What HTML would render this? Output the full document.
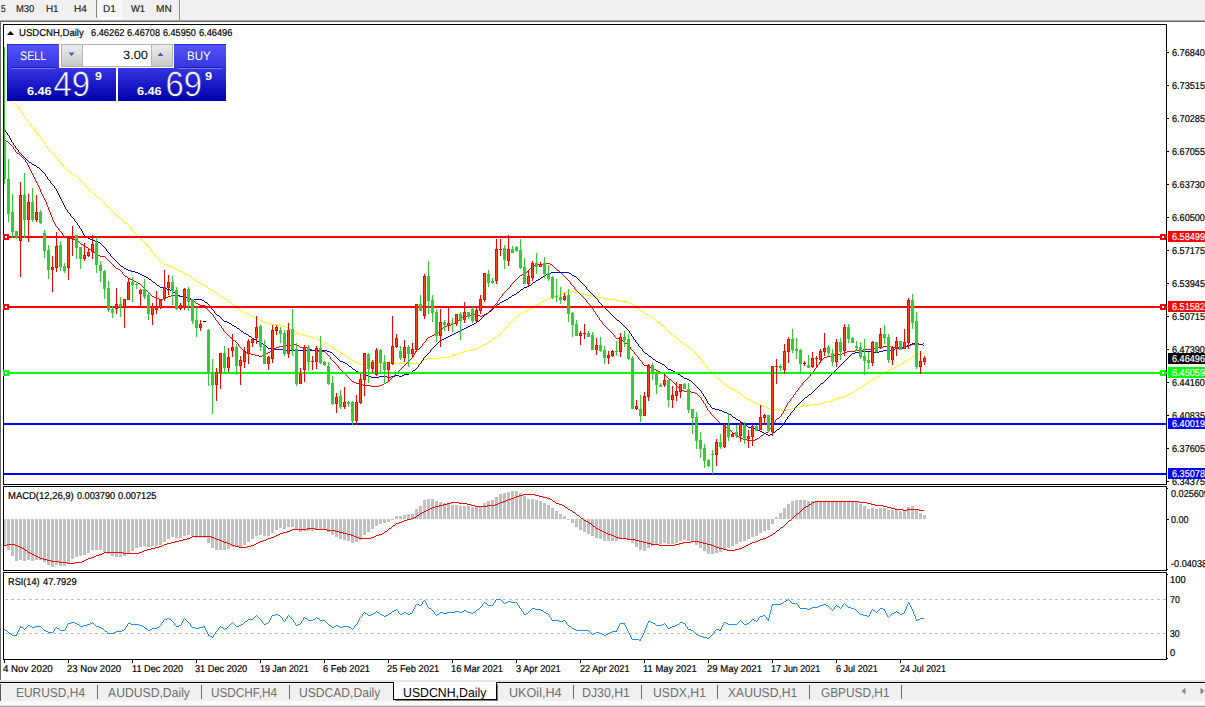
<!DOCTYPE html><html><head><meta charset="utf-8"><title>USDCNH,Daily</title><style>
html,body{margin:0;padding:0;}
body{width:1205px;height:707px;overflow:hidden;background:#fff;font-family:"Liberation Sans",sans-serif;position:relative;}
.a{position:absolute;}
.t{position:absolute;transform-origin:0 0;text-rendering:geometricPrecision;font-size:11px;line-height:11px;color:#000;white-space:nowrap;}
.tb{position:absolute;font-size:11px;line-height:11px;color:#3c3c3c;white-space:nowrap;top:3px;}
.tab{position:absolute;font-size:13px;line-height:13px;color:#6a6a6a;white-space:nowrap;top:686px;}
.pl{position:absolute;left:1168px;width:37px;height:11px;color:#fff;font-size:11px;line-height:11px;overflow:hidden;white-space:nowrap;}
.pl span{position:absolute;left:4px;top:0px;}
</style></head><body>
<div class="a" style="left:0;top:0;width:1205px;height:20px;background:#f0f0f0;"></div>
<div class="a" style="left:0;top:20px;width:1205px;height:1px;background:#a8a8a8;"></div>
<div class="a" style="left:0;top:21px;width:1205px;height:1px;background:#696969;"></div>
<div class="a" style="left:96px;top:0;width:1px;height:18px;background:#858585;"></div>
<div class="a" style="left:97px;top:0;width:24px;height:18px;background:#f8f8f8;"></div>
<div class="a" style="left:96px;top:18px;width:26px;height:1px;background:#fcfcfc;"></div>
<div class="a" style="left:121px;top:0;width:1px;height:18px;background:#fafafa;"></div>
<div class="a" style="left:179px;top:0;width:1px;height:20px;background:#8a8a8a;"></div>
<div class="a" style="left:180px;top:0;width:1px;height:20px;background:#fafafa;"></div>
<div class="t" style="left:0.96px;top:4.53px;font-size:10px;line-height:10px;color:#282828;transform:scaleX(0.8437);-webkit-text-stroke:0.2px #282828;">5</div>
<div class="t" style="left:15.53px;top:4.53px;font-size:10px;line-height:10px;color:#282828;transform:scaleX(0.9429);-webkit-text-stroke:0.2px #282828;">M30</div>
<div class="t" style="left:46.19px;top:4.53px;font-size:10px;line-height:10px;color:#282828;transform:scaleX(0.9848);-webkit-text-stroke:0.2px #282828;">H1</div>
<div class="t" style="left:73.58px;top:4.53px;font-size:10px;line-height:10px;color:#282828;transform:scaleX(1.0026);-webkit-text-stroke:0.2px #282828;">H4</div>
<div class="t" style="left:102.59px;top:4.53px;font-size:10px;line-height:10px;color:#282828;transform:scaleX(0.9935);-webkit-text-stroke:0.2px #282828;">D1</div>
<div class="t" style="left:130.76px;top:4.53px;font-size:10px;line-height:10px;color:#282828;transform:scaleX(0.9331);-webkit-text-stroke:0.2px #282828;">W1</div>
<div class="t" style="left:156.47px;top:4.53px;font-size:10px;line-height:10px;color:#282828;transform:scaleX(1.0060);-webkit-text-stroke:0.2px #282828;">MN</div>
<div class="a" style="left:0;top:22px;width:1px;height:658px;background:#6a6a6a;"></div>
<div class="a" style="left:3px;top:24px;width:1162px;height:459px;border:1px solid #000;"></div>
<div class="a" style="left:3px;top:486px;width:1162px;height:83px;border:1px solid #000;"></div>
<div class="a" style="left:3px;top:572px;width:1162px;height:86px;border:1px solid #000;"></div>
<div class="a" style="left:1167px;top:52px;width:2px;height:1px;background:#000;"></div>
<div class="t" style="left:1172.34px;top:48.53px;font-size:10px;line-height:10px;color:#000;transform:scaleX(0.9107);-webkit-text-stroke:0.2px #000;">6.76840</div>
<div class="a" style="left:1167px;top:85px;width:2px;height:1px;background:#000;"></div>
<div class="t" style="left:1172.34px;top:81.53px;font-size:10px;line-height:10px;color:#000;transform:scaleX(0.9114);-webkit-text-stroke:0.2px #000;">6.73515</div>
<div class="a" style="left:1167px;top:118px;width:2px;height:1px;background:#000;"></div>
<div class="t" style="left:1172.34px;top:114.53px;font-size:10px;line-height:10px;color:#000;transform:scaleX(0.9114);-webkit-text-stroke:0.2px #000;">6.70285</div>
<div class="a" style="left:1167px;top:151px;width:2px;height:1px;background:#000;"></div>
<div class="t" style="left:1172.34px;top:147.53px;font-size:10px;line-height:10px;color:#000;transform:scaleX(0.9114);-webkit-text-stroke:0.2px #000;">6.67055</div>
<div class="a" style="left:1167px;top:184px;width:2px;height:1px;background:#000;"></div>
<div class="t" style="left:1172.34px;top:180.53px;font-size:10px;line-height:10px;color:#000;transform:scaleX(0.9107);-webkit-text-stroke:0.2px #000;">6.63730</div>
<div class="a" style="left:1167px;top:217px;width:2px;height:1px;background:#000;"></div>
<div class="t" style="left:1172.34px;top:213.53px;font-size:10px;line-height:10px;color:#000;transform:scaleX(0.9107);-webkit-text-stroke:0.2px #000;">6.60500</div>
<div class="a" style="left:1167px;top:250px;width:2px;height:1px;background:#000;"></div>
<div class="t" style="left:1172.34px;top:246.53px;font-size:10px;line-height:10px;color:#000;transform:scaleX(0.9114);-webkit-text-stroke:0.2px #000;">6.57175</div>
<div class="a" style="left:1167px;top:283px;width:2px;height:1px;background:#000;"></div>
<div class="t" style="left:1172.34px;top:279.53px;font-size:10px;line-height:10px;color:#000;transform:scaleX(0.9114);-webkit-text-stroke:0.2px #000;">6.53945</div>
<div class="a" style="left:1167px;top:316px;width:2px;height:1px;background:#000;"></div>
<div class="t" style="left:1172.34px;top:312.53px;font-size:10px;line-height:10px;color:#000;transform:scaleX(0.9114);-webkit-text-stroke:0.2px #000;">6.50715</div>
<div class="a" style="left:1167px;top:349px;width:2px;height:1px;background:#000;"></div>
<div class="t" style="left:1172.34px;top:345.53px;font-size:10px;line-height:10px;color:#000;transform:scaleX(0.9107);-webkit-text-stroke:0.2px #000;">6.47390</div>
<div class="a" style="left:1167px;top:382px;width:2px;height:1px;background:#000;"></div>
<div class="t" style="left:1172.34px;top:378.53px;font-size:10px;line-height:10px;color:#000;transform:scaleX(0.9107);-webkit-text-stroke:0.2px #000;">6.44160</div>
<div class="a" style="left:1167px;top:415px;width:2px;height:1px;background:#000;"></div>
<div class="t" style="left:1172.34px;top:411.53px;font-size:10px;line-height:10px;color:#000;transform:scaleX(0.9114);-webkit-text-stroke:0.2px #000;">6.40835</div>
<div class="a" style="left:1167px;top:448px;width:2px;height:1px;background:#000;"></div>
<div class="t" style="left:1172.34px;top:444.53px;font-size:10px;line-height:10px;color:#000;transform:scaleX(0.9114);-webkit-text-stroke:0.2px #000;">6.37605</div>
<div class="a" style="left:1167px;top:481px;width:2px;height:1px;background:#000;"></div>
<div class="t" style="left:1172.34px;top:477.53px;font-size:10px;line-height:10px;color:#000;transform:scaleX(0.9114);-webkit-text-stroke:0.2px #000;">6.34375</div>
<div class="a" style="left:1167px;top:488px;width:1px;height:1px;background:#000;"></div>
<div class="t" style="left:1171.15px;top:489.93px;font-size:10px;line-height:10px;color:#000;transform:scaleX(0.9083);-webkit-text-stroke:0.2px #000;">0.025609</div>
<div class="a" style="left:1167px;top:519px;width:2px;height:1px;background:#000;"></div>
<div class="t" style="left:1171.15px;top:515.53px;font-size:10px;line-height:10px;color:#000;transform:scaleX(0.8993);-webkit-text-stroke:0.2px #000;">0.00</div>
<div class="a" style="left:1167px;top:569px;width:1px;height:1px;background:#000;"></div>
<div class="t" style="left:1171.09px;top:559.73px;font-size:10px;line-height:10px;color:#000;transform:scaleX(0.9145);-webkit-text-stroke:0.2px #000;">-0.04038</div>
<div class="a" style="left:1167px;top:574px;width:1px;height:1px;background:#000;"></div>
<div class="t" style="left:1169.59px;top:575.73px;font-size:10px;line-height:10px;color:#000;transform:scaleX(0.9335);-webkit-text-stroke:0.2px #000;">100</div>
<div class="a" style="left:1167px;top:599px;width:0px;height:1px;background:#000;"></div>
<div class="t" style="left:1169.85px;top:595.53px;font-size:10px;line-height:10px;color:#000;transform:scaleX(0.8806);-webkit-text-stroke:0.2px #000;">70</div>
<div class="a" style="left:1167px;top:633px;width:0px;height:1px;background:#000;"></div>
<div class="t" style="left:1169.97px;top:629.53px;font-size:10px;line-height:10px;color:#000;transform:scaleX(0.8694);-webkit-text-stroke:0.2px #000;">30</div>
<div class="a" style="left:1167px;top:658px;width:1px;height:1px;background:#000;"></div>
<div class="t" style="left:1169.93px;top:648.53px;font-size:10px;line-height:10px;color:#000;transform:scaleX(0.9414);-webkit-text-stroke:0.2px #000;">0</div>
<svg class="a" style="left:0;top:0;" width="1205" height="707" viewBox="0 0 1205 707" shape-rendering="crispEdges"><defs><clipPath id="c1"><rect x="4" y="25" width="1162" height="459"/></clipPath><clipPath id="c2"><rect x="4" y="487" width="1162" height="83"/></clipPath><clipPath id="c3"><rect x="4" y="573" width="1162" height="86"/></clipPath></defs><g clip-path="url(#c3)"><path d="M5 599h3v1h-3zM11 599h3v1h-3zM17 599h3v1h-3zM23 599h3v1h-3zM29 599h3v1h-3zM35 599h3v1h-3zM41 599h3v1h-3zM47 599h3v1h-3zM53 599h3v1h-3zM59 599h3v1h-3zM65 599h3v1h-3zM71 599h3v1h-3zM77 599h3v1h-3zM83 599h3v1h-3zM89 599h3v1h-3zM95 599h3v1h-3zM101 599h3v1h-3zM107 599h3v1h-3zM113 599h3v1h-3zM119 599h3v1h-3zM125 599h3v1h-3zM131 599h3v1h-3zM137 599h3v1h-3zM143 599h3v1h-3zM149 599h3v1h-3zM155 599h3v1h-3zM161 599h3v1h-3zM167 599h3v1h-3zM173 599h3v1h-3zM179 599h3v1h-3zM185 599h3v1h-3zM191 599h3v1h-3zM197 599h3v1h-3zM203 599h3v1h-3zM209 599h3v1h-3zM215 599h3v1h-3zM221 599h3v1h-3zM227 599h3v1h-3zM233 599h3v1h-3zM239 599h3v1h-3zM245 599h3v1h-3zM251 599h3v1h-3zM257 599h3v1h-3zM263 599h3v1h-3zM269 599h3v1h-3zM275 599h3v1h-3zM281 599h3v1h-3zM287 599h3v1h-3zM293 599h3v1h-3zM299 599h3v1h-3zM305 599h3v1h-3zM311 599h3v1h-3zM317 599h3v1h-3zM323 599h3v1h-3zM329 599h3v1h-3zM335 599h3v1h-3zM341 599h3v1h-3zM347 599h3v1h-3zM353 599h3v1h-3zM359 599h3v1h-3zM365 599h3v1h-3zM371 599h3v1h-3zM377 599h3v1h-3zM383 599h3v1h-3zM389 599h3v1h-3zM395 599h3v1h-3zM401 599h3v1h-3zM407 599h3v1h-3zM413 599h3v1h-3zM419 599h3v1h-3zM425 599h3v1h-3zM431 599h3v1h-3zM437 599h3v1h-3zM443 599h3v1h-3zM449 599h3v1h-3zM455 599h3v1h-3zM461 599h3v1h-3zM467 599h3v1h-3zM473 599h3v1h-3zM479 599h3v1h-3zM485 599h3v1h-3zM491 599h3v1h-3zM497 599h3v1h-3zM503 599h3v1h-3zM509 599h3v1h-3zM515 599h3v1h-3zM521 599h3v1h-3zM527 599h3v1h-3zM533 599h3v1h-3zM539 599h3v1h-3zM545 599h3v1h-3zM551 599h3v1h-3zM557 599h3v1h-3zM563 599h3v1h-3zM569 599h3v1h-3zM575 599h3v1h-3zM581 599h3v1h-3zM587 599h3v1h-3zM593 599h3v1h-3zM599 599h3v1h-3zM605 599h3v1h-3zM611 599h3v1h-3zM617 599h3v1h-3zM623 599h3v1h-3zM629 599h3v1h-3zM635 599h3v1h-3zM641 599h3v1h-3zM647 599h3v1h-3zM653 599h3v1h-3zM659 599h3v1h-3zM665 599h3v1h-3zM671 599h3v1h-3zM677 599h3v1h-3zM683 599h3v1h-3zM689 599h3v1h-3zM695 599h3v1h-3zM701 599h3v1h-3zM707 599h3v1h-3zM713 599h3v1h-3zM719 599h3v1h-3zM725 599h3v1h-3zM731 599h3v1h-3zM737 599h3v1h-3zM743 599h3v1h-3zM749 599h3v1h-3zM755 599h3v1h-3zM761 599h3v1h-3zM767 599h3v1h-3zM773 599h3v1h-3zM779 599h3v1h-3zM785 599h3v1h-3zM791 599h3v1h-3zM797 599h3v1h-3zM803 599h3v1h-3zM809 599h3v1h-3zM815 599h3v1h-3zM821 599h3v1h-3zM827 599h3v1h-3zM833 599h3v1h-3zM839 599h3v1h-3zM845 599h3v1h-3zM851 599h3v1h-3zM857 599h3v1h-3zM863 599h3v1h-3zM869 599h3v1h-3zM875 599h3v1h-3zM881 599h3v1h-3zM887 599h3v1h-3zM893 599h3v1h-3zM899 599h3v1h-3zM905 599h3v1h-3zM911 599h3v1h-3zM917 599h3v1h-3zM923 599h3v1h-3zM929 599h3v1h-3zM935 599h3v1h-3zM941 599h3v1h-3zM947 599h3v1h-3zM953 599h3v1h-3zM959 599h3v1h-3zM965 599h3v1h-3zM971 599h3v1h-3zM977 599h3v1h-3zM983 599h3v1h-3zM989 599h3v1h-3zM995 599h3v1h-3zM1001 599h3v1h-3zM1007 599h3v1h-3zM1013 599h3v1h-3zM1019 599h3v1h-3zM1025 599h3v1h-3zM1031 599h3v1h-3zM1037 599h3v1h-3zM1043 599h3v1h-3zM1049 599h3v1h-3zM1055 599h3v1h-3zM1061 599h3v1h-3zM1067 599h3v1h-3zM1073 599h3v1h-3zM1079 599h3v1h-3zM1085 599h3v1h-3zM1091 599h3v1h-3zM1097 599h3v1h-3zM1103 599h3v1h-3zM1109 599h3v1h-3zM1115 599h3v1h-3zM1121 599h3v1h-3zM1127 599h3v1h-3zM1133 599h3v1h-3zM1139 599h3v1h-3zM1145 599h3v1h-3zM1151 599h3v1h-3zM1157 599h3v1h-3zM1163 599h3v1h-3zM5 633h3v1h-3zM11 633h3v1h-3zM17 633h3v1h-3zM23 633h3v1h-3zM29 633h3v1h-3zM35 633h3v1h-3zM41 633h3v1h-3zM47 633h3v1h-3zM53 633h3v1h-3zM59 633h3v1h-3zM65 633h3v1h-3zM71 633h3v1h-3zM77 633h3v1h-3zM83 633h3v1h-3zM89 633h3v1h-3zM95 633h3v1h-3zM101 633h3v1h-3zM107 633h3v1h-3zM113 633h3v1h-3zM119 633h3v1h-3zM125 633h3v1h-3zM131 633h3v1h-3zM137 633h3v1h-3zM143 633h3v1h-3zM149 633h3v1h-3zM155 633h3v1h-3zM161 633h3v1h-3zM167 633h3v1h-3zM173 633h3v1h-3zM179 633h3v1h-3zM185 633h3v1h-3zM191 633h3v1h-3zM197 633h3v1h-3zM203 633h3v1h-3zM209 633h3v1h-3zM215 633h3v1h-3zM221 633h3v1h-3zM227 633h3v1h-3zM233 633h3v1h-3zM239 633h3v1h-3zM245 633h3v1h-3zM251 633h3v1h-3zM257 633h3v1h-3zM263 633h3v1h-3zM269 633h3v1h-3zM275 633h3v1h-3zM281 633h3v1h-3zM287 633h3v1h-3zM293 633h3v1h-3zM299 633h3v1h-3zM305 633h3v1h-3zM311 633h3v1h-3zM317 633h3v1h-3zM323 633h3v1h-3zM329 633h3v1h-3zM335 633h3v1h-3zM341 633h3v1h-3zM347 633h3v1h-3zM353 633h3v1h-3zM359 633h3v1h-3zM365 633h3v1h-3zM371 633h3v1h-3zM377 633h3v1h-3zM383 633h3v1h-3zM389 633h3v1h-3zM395 633h3v1h-3zM401 633h3v1h-3zM407 633h3v1h-3zM413 633h3v1h-3zM419 633h3v1h-3zM425 633h3v1h-3zM431 633h3v1h-3zM437 633h3v1h-3zM443 633h3v1h-3zM449 633h3v1h-3zM455 633h3v1h-3zM461 633h3v1h-3zM467 633h3v1h-3zM473 633h3v1h-3zM479 633h3v1h-3zM485 633h3v1h-3zM491 633h3v1h-3zM497 633h3v1h-3zM503 633h3v1h-3zM509 633h3v1h-3zM515 633h3v1h-3zM521 633h3v1h-3zM527 633h3v1h-3zM533 633h3v1h-3zM539 633h3v1h-3zM545 633h3v1h-3zM551 633h3v1h-3zM557 633h3v1h-3zM563 633h3v1h-3zM569 633h3v1h-3zM575 633h3v1h-3zM581 633h3v1h-3zM587 633h3v1h-3zM593 633h3v1h-3zM599 633h3v1h-3zM605 633h3v1h-3zM611 633h3v1h-3zM617 633h3v1h-3zM623 633h3v1h-3zM629 633h3v1h-3zM635 633h3v1h-3zM641 633h3v1h-3zM647 633h3v1h-3zM653 633h3v1h-3zM659 633h3v1h-3zM665 633h3v1h-3zM671 633h3v1h-3zM677 633h3v1h-3zM683 633h3v1h-3zM689 633h3v1h-3zM695 633h3v1h-3zM701 633h3v1h-3zM707 633h3v1h-3zM713 633h3v1h-3zM719 633h3v1h-3zM725 633h3v1h-3zM731 633h3v1h-3zM737 633h3v1h-3zM743 633h3v1h-3zM749 633h3v1h-3zM755 633h3v1h-3zM761 633h3v1h-3zM767 633h3v1h-3zM773 633h3v1h-3zM779 633h3v1h-3zM785 633h3v1h-3zM791 633h3v1h-3zM797 633h3v1h-3zM803 633h3v1h-3zM809 633h3v1h-3zM815 633h3v1h-3zM821 633h3v1h-3zM827 633h3v1h-3zM833 633h3v1h-3zM839 633h3v1h-3zM845 633h3v1h-3zM851 633h3v1h-3zM857 633h3v1h-3zM863 633h3v1h-3zM869 633h3v1h-3zM875 633h3v1h-3zM881 633h3v1h-3zM887 633h3v1h-3zM893 633h3v1h-3zM899 633h3v1h-3zM905 633h3v1h-3zM911 633h3v1h-3zM917 633h3v1h-3zM923 633h3v1h-3zM929 633h3v1h-3zM935 633h3v1h-3zM941 633h3v1h-3zM947 633h3v1h-3zM953 633h3v1h-3zM959 633h3v1h-3zM965 633h3v1h-3zM971 633h3v1h-3zM977 633h3v1h-3zM983 633h3v1h-3zM989 633h3v1h-3zM995 633h3v1h-3zM1001 633h3v1h-3zM1007 633h3v1h-3zM1013 633h3v1h-3zM1019 633h3v1h-3zM1025 633h3v1h-3zM1031 633h3v1h-3zM1037 633h3v1h-3zM1043 633h3v1h-3zM1049 633h3v1h-3zM1055 633h3v1h-3zM1061 633h3v1h-3zM1067 633h3v1h-3zM1073 633h3v1h-3zM1079 633h3v1h-3zM1085 633h3v1h-3zM1091 633h3v1h-3zM1097 633h3v1h-3zM1103 633h3v1h-3zM1109 633h3v1h-3zM1115 633h3v1h-3zM1121 633h3v1h-3zM1127 633h3v1h-3zM1133 633h3v1h-3zM1139 633h3v1h-3zM1145 633h3v1h-3zM1151 633h3v1h-3zM1157 633h3v1h-3zM1163 633h3v1h-3z" fill="#c0c0c0"/><path d="M4 629h1v1h-1zM5 630h1v1h-1zM6 630h1v1h-1zM7 631h1v1h-1zM8 632h1v1h-1zM9 633h1v1h-1zM10 633h1v1h-1zM11 634h1v1h-1zM12 635h1v1h-1zM13 635h1v1h-1zM14 635h1v1h-1zM15 635h1v1h-1zM16 634h1v2h-1zM17 632h1v2h-1zM18 630h1v2h-1zM19 628h1v2h-1zM20 626h1v2h-1zM21 627h1v1h-1zM22 627h1v1h-1zM23 628h1v1h-1zM24 629h1v1h-1zM25 628h1v1h-1zM26 627h1v1h-1zM27 626h1v1h-1zM28 625h1v1h-1zM29 625h1v1h-1zM30 626h1v1h-1zM31 626h1v1h-1zM32 627h1v1h-1zM33 627h1v1h-1zM34 627h1v1h-1zM35 626h1v1h-1zM36 626h1v1h-1zM37 626h1v1h-1zM38 626h1v1h-1zM39 626h1v1h-1zM40 626h1v1h-1zM41 627h1v1h-1zM42 628h1v1h-1zM43 629h1v1h-1zM44 630h1v1h-1zM45 630h1v1h-1zM46 631h1v1h-1zM47 631h1v1h-1zM48 632h1v1h-1zM49 632h1v1h-1zM50 632h1v1h-1zM51 632h1v1h-1zM52 632h1v1h-1zM53 631h1v1h-1zM54 629h1v2h-1zM55 628h1v1h-1zM56 627h1v1h-1zM57 628h1v1h-1zM58 628h1v1h-1zM59 629h1v1h-1zM60 630h1v1h-1zM61 630h1v1h-1zM62 630h1v1h-1zM63 630h1v1h-1zM64 630h1v1h-1zM65 628h1v2h-1zM66 626h1v2h-1zM67 624h1v2h-1zM68 623h1v1h-1zM69 623h1v1h-1zM70 623h1v1h-1zM71 622h1v1h-1zM72 622h1v1h-1zM73 622h1v1h-1zM74 622h1v1h-1zM75 623h1v1h-1zM76 623h1v1h-1zM77 624h1v1h-1zM78 624h1v1h-1zM79 625h1v1h-1zM80 626h1v1h-1zM81 626h1v1h-1zM82 626h1v1h-1zM83 625h1v1h-1zM84 625h1v1h-1zM85 625h1v1h-1zM86 625h1v1h-1zM87 624h1v1h-1zM88 624h1v1h-1zM89 624h1v1h-1zM90 623h1v1h-1zM91 623h1v1h-1zM92 622h1v1h-1zM93 623h1v1h-1zM94 624h1v1h-1zM95 625h1v1h-1zM96 626h1v1h-1zM97 626h1v1h-1zM98 626h1v1h-1zM99 627h1v1h-1zM100 627h1v1h-1zM101 628h1v1h-1zM102 628h1v1h-1zM103 629h1v1h-1zM104 630h1v1h-1zM105 631h1v1h-1zM106 631h1v1h-1zM107 632h1v1h-1zM108 633h1v1h-1zM109 633h1v1h-1zM110 633h1v1h-1zM111 633h1v1h-1zM112 633h1v1h-1zM113 633h1v1h-1zM114 632h1v1h-1zM115 632h1v1h-1zM116 631h1v1h-1zM117 631h1v1h-1zM118 631h1v1h-1zM119 631h1v1h-1zM120 631h1v1h-1zM121 631h1v1h-1zM122 630h1v1h-1zM123 630h1v1h-1zM124 629h1v1h-1zM125 627h1v2h-1zM126 626h1v1h-1zM127 624h1v2h-1zM128 623h1v1h-1zM129 623h1v1h-1zM130 623h1v1h-1zM131 624h1v1h-1zM132 624h1v1h-1zM133 624h1v1h-1zM134 624h1v1h-1zM135 624h1v1h-1zM136 624h1v1h-1zM137 624h1v1h-1zM138 624h1v1h-1zM139 625h1v1h-1zM140 625h1v1h-1zM141 625h1v1h-1zM142 626h1v1h-1zM143 626h1v1h-1zM144 627h1v1h-1zM145 628h1v1h-1zM146 628h1v1h-1zM147 629h1v1h-1zM148 630h1v1h-1zM149 630h1v1h-1zM150 629h1v1h-1zM151 629h1v1h-1zM152 628h1v1h-1zM153 628h1v1h-1zM154 628h1v1h-1zM155 628h1v1h-1zM156 628h1v1h-1zM157 627h1v1h-1zM158 627h1v1h-1zM159 626h1v1h-1zM160 625h1v1h-1zM161 623h1v2h-1zM162 622h1v1h-1zM163 620h1v2h-1zM164 619h1v1h-1zM165 619h1v1h-1zM166 619h1v1h-1zM167 618h1v1h-1zM168 618h1v1h-1zM169 619h1v1h-1zM170 619h1v1h-1zM171 620h1v1h-1zM172 621h1v1h-1zM173 622h1v1h-1zM174 623h1v2h-1zM175 625h1v1h-1zM176 626h1v1h-1zM177 626h1v1h-1zM178 626h1v1h-1zM179 625h1v1h-1zM180 625h1v1h-1zM181 623h1v2h-1zM182 621h1v2h-1zM183 619h1v2h-1zM184 618h1v1h-1zM185 619h1v1h-1zM186 620h1v1h-1zM187 621h1v1h-1zM188 622h1v1h-1zM189 623h1v1h-1zM190 624h1v2h-1zM191 626h1v1h-1zM192 627h1v1h-1zM193 627h1v1h-1zM194 627h1v1h-1zM195 628h1v1h-1zM196 628h1v1h-1zM197 628h1v1h-1zM198 628h1v1h-1zM199 627h1v1h-1zM200 627h1v1h-1zM201 627h1v1h-1zM202 627h1v1h-1zM203 626h1v1h-1zM204 626h1v2h-1zM205 628h1v2h-1zM206 630h1v2h-1zM207 632h1v2h-1zM208 634h1v2h-1zM209 635h1v1h-1zM210 636h1v1h-1zM211 636h1v1h-1zM212 637h1v1h-1zM213 635h1v2h-1zM214 634h1v1h-1zM215 632h1v2h-1zM216 631h1v1h-1zM217 630h1v1h-1zM218 628h1v2h-1zM219 627h1v1h-1zM220 626h1v1h-1zM221 627h1v1h-1zM222 627h1v1h-1zM223 628h1v1h-1zM224 629h1v1h-1zM225 628h1v1h-1zM226 628h1v1h-1zM227 627h1v1h-1zM228 626h1v1h-1zM229 625h1v1h-1zM230 624h1v1h-1zM231 623h1v1h-1zM232 622h1v1h-1zM233 623h1v1h-1zM234 624h1v1h-1zM235 625h1v1h-1zM236 626h1v1h-1zM237 626h1v1h-1zM238 626h1v1h-1zM239 625h1v1h-1zM240 625h1v1h-1zM241 624h1v1h-1zM242 624h1v1h-1zM243 623h1v1h-1zM244 622h1v1h-1zM245 621h1v1h-1zM246 621h1v1h-1zM247 620h1v1h-1zM248 619h1v1h-1zM249 619h1v1h-1zM250 619h1v1h-1zM251 619h1v1h-1zM252 619h1v1h-1zM253 618h1v1h-1zM254 617h1v1h-1zM255 616h1v1h-1zM256 615h1v1h-1zM257 616h1v1h-1zM258 617h1v1h-1zM259 618h1v1h-1zM260 619h1v1h-1zM261 620h1v1h-1zM262 621h1v2h-1zM263 623h1v1h-1zM264 624h1v1h-1zM265 624h1v1h-1zM266 623h1v1h-1zM267 623h1v1h-1zM268 622h1v1h-1zM269 620h1v2h-1zM270 618h1v2h-1zM271 616h1v2h-1zM272 615h1v1h-1zM273 615h1v1h-1zM274 615h1v1h-1zM275 614h1v1h-1zM276 614h1v1h-1zM277 614h1v1h-1zM278 615h1v1h-1zM279 615h1v1h-1zM280 616h1v1h-1zM281 617h1v1h-1zM282 618h1v2h-1zM283 620h1v1h-1zM284 621h1v1h-1zM285 619h1v2h-1zM286 618h1v1h-1zM287 616h1v2h-1zM288 615h1v1h-1zM289 616h1v1h-1zM290 617h1v1h-1zM291 618h1v1h-1zM292 619h1v1h-1zM293 620h1v2h-1zM294 622h1v1h-1zM295 623h1v2h-1zM296 625h1v1h-1zM297 625h1v1h-1zM298 624h1v1h-1zM299 624h1v1h-1zM300 623h1v1h-1zM301 621h1v2h-1zM302 620h1v1h-1zM303 618h1v2h-1zM304 617h1v1h-1zM305 618h1v1h-1zM306 618h1v1h-1zM307 619h1v1h-1zM308 620h1v1h-1zM309 620h1v1h-1zM310 620h1v1h-1zM311 620h1v1h-1zM312 620h1v1h-1zM313 619h1v1h-1zM314 619h1v1h-1zM315 618h1v1h-1zM316 617h1v1h-1zM317 618h1v1h-1zM318 618h1v1h-1zM319 619h1v1h-1zM320 620h1v1h-1zM321 620h1v1h-1zM322 620h1v1h-1zM323 620h1v1h-1zM324 620h1v1h-1zM325 621h1v1h-1zM326 622h1v1h-1zM327 623h1v1h-1zM328 624h1v1h-1zM329 625h1v1h-1zM330 625h1v1h-1zM331 626h1v1h-1zM332 627h1v1h-1zM333 627h1v1h-1zM334 626h1v1h-1zM335 626h1v1h-1zM336 625h1v1h-1zM337 625h1v1h-1zM338 626h1v1h-1zM339 626h1v1h-1zM340 627h1v1h-1zM341 627h1v1h-1zM342 627h1v1h-1zM343 626h1v1h-1zM344 626h1v1h-1zM345 626h1v1h-1zM346 626h1v1h-1zM347 626h1v1h-1zM348 626h1v1h-1zM349 627h1v1h-1zM350 627h1v1h-1zM351 628h1v1h-1zM352 629h1v1h-1zM353 628h1v1h-1zM354 626h1v2h-1zM355 625h1v1h-1zM356 624h1v1h-1zM357 622h1v2h-1zM358 620h1v2h-1zM359 618h1v2h-1zM360 617h1v1h-1zM361 616h1v1h-1zM362 614h1v2h-1zM363 613h1v1h-1zM364 612h1v1h-1zM365 613h1v1h-1zM366 613h1v1h-1zM367 614h1v1h-1zM368 615h1v1h-1zM369 615h1v1h-1zM370 615h1v1h-1zM371 614h1v1h-1zM372 614h1v1h-1zM373 613h1v1h-1zM374 613h1v1h-1zM375 612h1v1h-1zM376 611h1v1h-1zM377 612h1v1h-1zM378 612h1v1h-1zM379 613h1v1h-1zM380 614h1v1h-1zM381 614h1v1h-1zM382 615h1v1h-1zM383 615h1v1h-1zM384 616h1v1h-1zM385 616h1v1h-1zM386 615h1v1h-1zM387 615h1v1h-1zM388 614h1v1h-1zM389 613h1v1h-1zM390 613h1v1h-1zM391 612h1v1h-1zM392 611h1v1h-1zM393 611h1v1h-1zM394 610h1v1h-1zM395 610h1v1h-1zM396 609h1v1h-1zM397 610h1v1h-1zM398 611h1v2h-1zM399 613h1v1h-1zM400 614h1v1h-1zM401 614h1v1h-1zM402 613h1v1h-1zM403 613h1v1h-1zM404 612h1v1h-1zM405 612h1v1h-1zM406 613h1v1h-1zM407 613h1v1h-1zM408 614h1v1h-1zM409 614h1v1h-1zM410 613h1v1h-1zM411 613h1v1h-1zM412 611h1v2h-1zM413 609h1v2h-1zM414 607h1v2h-1zM415 605h1v2h-1zM416 604h1v1h-1zM417 604h1v1h-1zM418 604h1v1h-1zM419 605h1v1h-1zM420 605h1v1h-1zM421 604h1v1h-1zM422 602h1v2h-1zM423 601h1v1h-1zM424 600h1v1h-1zM425 601h1v2h-1zM426 603h1v2h-1zM427 605h1v2h-1zM428 607h1v1h-1zM429 608h1v1h-1zM430 608h1v1h-1zM431 609h1v1h-1zM432 610h1v1h-1zM433 611h1v1h-1zM434 612h1v2h-1zM435 614h1v1h-1zM436 615h1v1h-1zM437 614h1v1h-1zM438 614h1v1h-1zM439 613h1v1h-1zM440 612h1v1h-1zM441 612h1v1h-1zM442 612h1v1h-1zM443 613h1v1h-1zM444 613h1v1h-1zM445 613h1v1h-1zM446 613h1v1h-1zM447 612h1v1h-1zM448 612h1v1h-1zM449 612h1v1h-1zM450 612h1v1h-1zM451 612h1v1h-1zM452 612h1v1h-1zM453 612h1v1h-1zM454 612h1v1h-1zM455 611h1v1h-1zM456 611h1v1h-1zM457 611h1v1h-1zM458 611h1v1h-1zM459 612h1v1h-1zM460 612h1v1h-1zM461 612h1v1h-1zM462 611h1v1h-1zM463 611h1v1h-1zM464 610h1v1h-1zM465 610h1v1h-1zM466 611h1v1h-1zM467 611h1v1h-1zM468 612h1v1h-1zM469 612h1v1h-1zM470 612h1v1h-1zM471 613h1v1h-1zM472 613h1v1h-1zM473 612h1v1h-1zM474 612h1v1h-1zM475 611h1v1h-1zM476 610h1v1h-1zM477 609h1v1h-1zM478 609h1v1h-1zM479 608h1v1h-1zM480 607h1v1h-1zM481 606h1v1h-1zM482 604h1v2h-1zM483 603h1v1h-1zM484 602h1v1h-1zM485 603h1v1h-1zM486 603h1v1h-1zM487 604h1v1h-1zM488 605h1v1h-1zM489 605h1v1h-1zM490 605h1v1h-1zM491 605h1v1h-1zM492 605h1v1h-1zM493 603h1v2h-1zM494 602h1v1h-1zM495 600h1v2h-1zM496 599h1v1h-1zM497 599h1v1h-1zM498 599h1v1h-1zM499 599h1v1h-1zM500 599h1v1h-1zM501 600h1v1h-1zM502 601h1v1h-1zM503 602h1v1h-1zM504 603h1v1h-1zM505 603h1v1h-1zM506 602h1v1h-1zM507 602h1v1h-1zM508 601h1v1h-1zM509 601h1v1h-1zM510 601h1v1h-1zM511 602h1v1h-1zM512 602h1v1h-1zM513 602h1v1h-1zM514 602h1v1h-1zM515 602h1v1h-1zM516 602h1v1h-1zM517 603h1v2h-1zM518 605h1v1h-1zM519 606h1v2h-1zM520 608h1v1h-1zM521 609h1v2h-1zM522 611h1v1h-1zM523 612h1v2h-1zM524 614h1v1h-1zM525 614h1v1h-1zM526 613h1v1h-1zM527 613h1v1h-1zM528 612h1v1h-1zM529 611h1v1h-1zM530 610h1v1h-1zM531 609h1v1h-1zM532 608h1v1h-1zM533 608h1v1h-1zM534 608h1v1h-1zM535 609h1v1h-1zM536 609h1v1h-1zM537 609h1v1h-1zM538 609h1v1h-1zM539 609h1v1h-1zM540 609h1v1h-1zM541 610h1v1h-1zM542 610h1v1h-1zM543 611h1v1h-1zM544 612h1v1h-1zM545 612h1v1h-1zM546 613h1v1h-1zM547 613h1v1h-1zM548 614h1v1h-1zM549 615h1v2h-1zM550 617h1v1h-1zM551 618h1v2h-1zM552 620h1v1h-1zM553 620h1v1h-1zM554 620h1v1h-1zM555 620h1v1h-1zM556 620h1v1h-1zM557 620h1v1h-1zM558 620h1v1h-1zM559 621h1v1h-1zM560 621h1v1h-1zM561 621h1v1h-1zM562 621h1v1h-1zM563 620h1v1h-1zM564 620h1v1h-1zM565 621h1v1h-1zM566 622h1v2h-1zM567 624h1v1h-1zM568 625h1v1h-1zM569 626h1v1h-1zM570 626h1v1h-1zM571 627h1v1h-1zM572 628h1v1h-1zM573 628h1v1h-1zM574 629h1v1h-1zM575 629h1v1h-1zM576 630h1v1h-1zM577 630h1v1h-1zM578 630h1v1h-1zM579 630h1v1h-1zM580 630h1v1h-1zM581 630h1v1h-1zM582 630h1v1h-1zM583 630h1v1h-1zM584 630h1v1h-1zM585 630h1v1h-1zM586 630h1v1h-1zM587 630h1v1h-1zM588 630h1v1h-1zM589 631h1v1h-1zM590 632h1v1h-1zM591 633h1v1h-1zM592 634h1v1h-1zM593 634h1v1h-1zM594 633h1v1h-1zM595 633h1v1h-1zM596 632h1v1h-1zM597 632h1v1h-1zM598 632h1v1h-1zM599 633h1v1h-1zM600 633h1v1h-1zM601 633h1v1h-1zM602 634h1v1h-1zM603 634h1v1h-1zM604 635h1v1h-1zM605 635h1v1h-1zM606 634h1v1h-1zM607 634h1v1h-1zM608 633h1v1h-1zM609 633h1v1h-1zM610 632h1v1h-1zM611 632h1v1h-1zM612 631h1v1h-1zM613 631h1v1h-1zM614 631h1v1h-1zM615 631h1v1h-1zM616 630h1v2h-1zM617 628h1v2h-1zM618 626h1v2h-1zM619 624h1v2h-1zM620 623h1v1h-1zM621 623h1v1h-1zM622 623h1v1h-1zM623 623h1v1h-1zM624 623h1v2h-1zM625 625h1v2h-1zM626 627h1v2h-1zM627 629h1v2h-1zM628 631h1v2h-1zM629 633h1v2h-1zM630 635h1v2h-1zM631 637h1v2h-1zM632 639h1v1h-1zM633 639h1v1h-1zM634 639h1v1h-1zM635 639h1v1h-1zM636 639h1v1h-1zM637 639h1v1h-1zM638 639h1v1h-1zM639 640h1v1h-1zM640 639h1v2h-1zM641 637h1v2h-1zM642 635h1v2h-1zM643 633h1v2h-1zM644 630h1v3h-1zM645 628h1v2h-1zM646 625h1v3h-1zM647 623h1v2h-1zM648 621h1v2h-1zM649 621h1v1h-1zM650 621h1v1h-1zM651 622h1v1h-1zM652 622h1v1h-1zM653 623h1v1h-1zM654 623h1v1h-1zM655 624h1v1h-1zM656 625h1v1h-1zM657 625h1v1h-1zM658 625h1v1h-1zM659 625h1v1h-1zM660 625h1v1h-1zM661 625h1v1h-1zM662 624h1v1h-1zM663 624h1v1h-1zM664 623h1v1h-1zM665 624h1v1h-1zM666 625h1v2h-1zM667 627h1v1h-1zM668 628h1v1h-1zM669 628h1v1h-1zM670 627h1v1h-1zM671 627h1v1h-1zM672 626h1v1h-1zM673 626h1v1h-1zM674 626h1v1h-1zM675 625h1v1h-1zM676 625h1v1h-1zM677 624h1v1h-1zM678 624h1v1h-1zM679 623h1v1h-1zM680 622h1v1h-1zM681 622h1v1h-1zM682 622h1v1h-1zM683 623h1v1h-1zM684 623h1v1h-1zM685 624h1v2h-1zM686 626h1v1h-1zM687 627h1v2h-1zM688 629h1v1h-1zM689 629h1v1h-1zM690 629h1v1h-1zM691 630h1v1h-1zM692 630h1v1h-1zM693 631h1v1h-1zM694 632h1v1h-1zM695 633h1v1h-1zM696 634h1v1h-1zM697 634h1v1h-1zM698 635h1v1h-1zM699 635h1v1h-1zM700 636h1v1h-1zM701 636h1v1h-1zM702 636h1v1h-1zM703 637h1v1h-1zM704 637h1v1h-1zM705 637h1v1h-1zM706 637h1v1h-1zM707 638h1v1h-1zM708 638h1v1h-1zM709 637h1v1h-1zM710 636h1v1h-1zM711 635h1v1h-1zM712 634h1v1h-1zM713 633h1v1h-1zM714 631h1v2h-1zM715 630h1v1h-1zM716 629h1v1h-1zM717 629h1v1h-1zM718 629h1v1h-1zM719 630h1v1h-1zM720 629h1v2h-1zM721 627h1v2h-1zM722 625h1v2h-1zM723 623h1v2h-1zM724 622h1v1h-1zM725 622h1v1h-1zM726 623h1v1h-1zM727 623h1v1h-1zM728 624h1v1h-1zM729 624h1v1h-1zM730 624h1v1h-1zM731 624h1v1h-1zM732 624h1v1h-1zM733 624h1v1h-1zM734 624h1v1h-1zM735 624h1v1h-1zM736 624h1v1h-1zM737 623h1v1h-1zM738 622h1v1h-1zM739 621h1v1h-1zM740 620h1v1h-1zM741 621h1v1h-1zM742 622h1v1h-1zM743 623h1v1h-1zM744 624h1v1h-1zM745 624h1v1h-1zM746 624h1v1h-1zM747 623h1v1h-1zM748 623h1v1h-1zM749 622h1v1h-1zM750 621h1v1h-1zM751 620h1v1h-1zM752 619h1v1h-1zM753 619h1v1h-1zM754 620h1v1h-1zM755 620h1v1h-1zM756 621h1v1h-1zM757 620h1v1h-1zM758 618h1v2h-1zM759 617h1v1h-1zM760 616h1v1h-1zM761 616h1v1h-1zM762 616h1v1h-1zM763 615h1v1h-1zM764 615h1v1h-1zM765 616h1v1h-1zM766 617h1v2h-1zM767 619h1v1h-1zM768 618h1v3h-1zM769 614h1v4h-1zM770 610h1v4h-1zM771 606h1v4h-1zM772 604h1v2h-1zM773 604h1v1h-1zM774 604h1v1h-1zM775 604h1v1h-1zM776 604h1v1h-1zM777 604h1v1h-1zM778 604h1v1h-1zM779 604h1v1h-1zM780 604h1v1h-1zM781 603h1v1h-1zM782 603h1v1h-1zM783 602h1v1h-1zM784 601h1v1h-1zM785 601h1v1h-1zM786 600h1v1h-1zM787 600h1v1h-1zM788 599h1v1h-1zM789 600h1v1h-1zM790 601h1v1h-1zM791 602h1v1h-1zM792 603h1v1h-1zM793 603h1v1h-1zM794 603h1v1h-1zM795 603h1v1h-1zM796 603h1v1h-1zM797 604h1v1h-1zM798 605h1v2h-1zM799 607h1v1h-1zM800 608h1v1h-1zM801 608h1v1h-1zM802 608h1v1h-1zM803 608h1v1h-1zM804 608h1v1h-1zM805 608h1v1h-1zM806 608h1v1h-1zM807 609h1v1h-1zM808 609h1v1h-1zM809 609h1v1h-1zM810 608h1v1h-1zM811 608h1v1h-1zM812 607h1v1h-1zM813 607h1v1h-1zM814 607h1v1h-1zM815 607h1v1h-1zM816 607h1v1h-1zM817 607h1v1h-1zM818 606h1v1h-1zM819 606h1v1h-1zM820 605h1v1h-1zM821 605h1v1h-1zM822 605h1v1h-1zM823 604h1v1h-1zM824 604h1v1h-1zM825 604h1v1h-1zM826 605h1v1h-1zM827 605h1v1h-1zM828 606h1v1h-1zM829 607h1v1h-1zM830 608h1v1h-1zM831 609h1v1h-1zM832 610h1v1h-1zM833 609h1v1h-1zM834 607h1v2h-1zM835 606h1v1h-1zM836 605h1v1h-1zM837 606h1v1h-1zM838 606h1v1h-1zM839 607h1v1h-1zM840 608h1v1h-1zM841 607h1v1h-1zM842 605h1v2h-1zM843 604h1v1h-1zM844 603h1v1h-1zM845 604h1v1h-1zM846 605h1v1h-1zM847 606h1v1h-1zM848 607h1v1h-1zM849 607h1v1h-1zM850 607h1v1h-1zM851 608h1v1h-1zM852 608h1v1h-1zM853 608h1v1h-1zM854 609h1v1h-1zM855 609h1v1h-1zM856 610h1v1h-1zM857 611h1v1h-1zM858 612h1v1h-1zM859 613h1v1h-1zM860 614h1v1h-1zM861 614h1v1h-1zM862 614h1v1h-1zM863 615h1v1h-1zM864 615h1v1h-1zM865 615h1v1h-1zM866 615h1v1h-1zM867 616h1v1h-1zM868 616h1v1h-1zM869 614h1v2h-1zM870 612h1v2h-1zM871 610h1v2h-1zM872 609h1v1h-1zM873 610h1v1h-1zM874 610h1v1h-1zM875 611h1v1h-1zM876 612h1v1h-1zM877 611h1v1h-1zM878 610h1v1h-1zM879 609h1v1h-1zM880 608h1v1h-1zM881 608h1v1h-1zM882 608h1v1h-1zM883 609h1v1h-1zM884 609h1v2h-1zM885 611h1v2h-1zM886 613h1v2h-1zM887 615h1v2h-1zM888 617h1v1h-1zM889 616h1v1h-1zM890 615h1v1h-1zM891 614h1v1h-1zM892 613h1v1h-1zM893 613h1v1h-1zM894 612h1v1h-1zM895 612h1v1h-1zM896 611h1v1h-1zM897 612h1v1h-1zM898 612h1v1h-1zM899 613h1v1h-1zM900 614h1v1h-1zM901 614h1v1h-1zM902 613h1v1h-1zM903 613h1v1h-1zM904 611h1v2h-1zM905 609h1v2h-1zM906 606h1v3h-1zM907 604h1v2h-1zM908 602h1v2h-1zM909 603h1v2h-1zM910 605h1v2h-1zM911 607h1v2h-1zM912 609h1v2h-1zM913 611h1v3h-1zM914 614h1v2h-1zM915 616h1v3h-1zM916 619h1v2h-1zM917 620h1v1h-1zM918 619h1v1h-1zM919 619h1v1h-1zM920 618h1v1h-1zM921 618h1v1h-1zM922 618h1v1h-1zM923 618h1v1h-1z" fill="#1e90ff"/></g><g clip-path="url(#c2)"><path d="M3 519h3v26h-3zM7 519h3v31h-3zM11 519h3v37h-3zM15 519h3v42h-3zM19 519h3v41h-3zM23 519h3v42h-3zM27 519h3v41h-3zM31 519h3v42h-3zM35 519h3v41h-3zM39 519h3v41h-3zM43 519h3v43h-3zM47 519h3v46h-3zM51 519h3v48h-3zM55 519h3v46h-3zM59 519h3v47h-3zM63 519h3v47h-3zM67 519h3v45h-3zM71 519h3v40h-3zM75 519h3v38h-3zM79 519h3v37h-3zM83 519h3v36h-3zM87 519h3v34h-3zM91 519h3v31h-3zM95 519h3v31h-3zM99 519h3v31h-3zM103 519h3v33h-3zM107 519h3v35h-3zM111 519h3v37h-3zM115 519h3v38h-3zM119 519h3v38h-3zM123 519h3v37h-3zM127 519h3v35h-3zM131 519h3v32h-3zM135 519h3v29h-3zM139 519h3v28h-3zM143 519h3v27h-3zM147 519h3v28h-3zM151 519h3v27h-3zM155 519h3v27h-3zM159 519h3v26h-3zM163 519h3v23h-3zM167 519h3v20h-3zM171 519h3v18h-3zM175 519h3v19h-3zM179 519h3v19h-3zM183 519h3v17h-3zM187 519h3v16h-3zM191 519h3v17h-3zM195 519h3v19h-3zM199 519h3v19h-3zM203 519h3v19h-3zM207 519h3v24h-3zM211 519h3v29h-3zM215 519h3v31h-3zM219 519h3v31h-3zM223 519h3v31h-3zM227 519h3v30h-3zM231 519h3v28h-3zM235 519h3v28h-3zM239 519h3v28h-3zM243 519h3v26h-3zM247 519h3v23h-3zM251 519h3v20h-3zM255 519h3v17h-3zM259 519h3v16h-3zM263 519h3v17h-3zM267 519h3v17h-3zM271 519h3v14h-3zM275 519h3v11h-3zM279 519h3v9h-3zM283 519h3v10h-3zM287 519h3v8h-3zM291 519h3v8h-3zM295 519h3v11h-3zM299 519h3v13h-3zM303 519h3v12h-3zM307 519h3v12h-3zM311 519h3v12h-3zM315 519h3v11h-3zM319 519h3v11h-3zM323 519h3v11h-3zM327 519h3v13h-3zM331 519h3v16h-3zM335 519h3v18h-3zM339 519h3v20h-3zM343 519h3v21h-3zM347 519h3v22h-3zM351 519h3v24h-3zM355 519h3v23h-3zM359 519h3v21h-3zM363 519h3v16h-3zM367 519h3v13h-3zM371 519h3v10h-3zM375 519h3v7h-3zM379 519h3v5h-3zM383 519h3v4h-3zM387 519h3v3h-3zM391 519h3v1h-3zM395 516h3v3h-3zM399 516h3v3h-3zM403 515h3v4h-3zM407 514h3v5h-3zM411 514h3v5h-3zM415 509h3v10h-3zM419 506h3v13h-3zM423 500h3v19h-3zM427 499h3v20h-3zM431 499h3v20h-3zM435 501h3v18h-3zM439 502h3v17h-3zM443 503h3v16h-3zM447 504h3v15h-3zM451 505h3v14h-3zM455 505h3v14h-3zM459 506h3v13h-3zM463 506h3v13h-3zM467 506h3v13h-3zM471 507h3v12h-3zM475 507h3v12h-3zM479 507h3v12h-3zM483 503h3v16h-3zM487 501h3v18h-3zM491 500h3v19h-3zM495 497h3v22h-3zM499 494h3v25h-3zM503 493h3v26h-3zM507 492h3v27h-3zM511 491h3v28h-3zM515 491h3v28h-3zM519 493h3v26h-3zM523 496h3v23h-3zM527 499h3v20h-3zM531 499h3v20h-3zM535 500h3v19h-3zM539 501h3v18h-3zM543 503h3v16h-3zM547 505h3v14h-3zM551 508h3v11h-3zM555 511h3v8h-3zM559 514h3v5h-3zM563 516h3v3h-3zM567 519h3v1h-3zM571 519h3v4h-3zM575 519h3v8h-3zM579 519h3v11h-3zM583 519h3v13h-3zM587 519h3v15h-3zM591 519h3v17h-3zM595 519h3v19h-3zM599 519h3v20h-3zM603 519h3v22h-3zM607 519h3v22h-3zM611 519h3v22h-3zM615 519h3v22h-3zM619 519h3v20h-3zM623 519h3v20h-3zM627 519h3v21h-3zM631 519h3v24h-3zM635 519h3v28h-3zM639 519h3v31h-3zM643 519h3v32h-3zM647 519h3v29h-3zM651 519h3v27h-3zM655 519h3v26h-3zM659 519h3v25h-3zM663 519h3v24h-3zM667 519h3v25h-3zM671 519h3v25h-3zM675 519h3v24h-3zM679 519h3v22h-3zM683 519h3v21h-3zM687 519h3v22h-3zM691 519h3v23h-3zM695 519h3v26h-3zM699 519h3v29h-3zM703 519h3v32h-3zM707 519h3v35h-3zM711 519h3v35h-3zM715 519h3v34h-3zM719 519h3v33h-3zM723 519h3v31h-3zM727 519h3v29h-3zM731 519h3v27h-3zM735 519h3v25h-3zM739 519h3v23h-3zM743 519h3v22h-3zM747 519h3v20h-3zM751 519h3v18h-3zM755 519h3v17h-3zM759 519h3v14h-3zM763 519h3v12h-3zM767 519h3v11h-3zM771 519h3v5h-3zM775 517h3v2h-3zM779 513h3v6h-3zM783 508h3v11h-3zM787 504h3v15h-3zM791 501h3v18h-3zM795 500h3v19h-3zM799 500h3v19h-3zM803 500h3v19h-3zM807 501h3v18h-3zM811 501h3v18h-3zM815 501h3v18h-3zM819 501h3v18h-3zM823 501h3v18h-3zM827 501h3v18h-3zM831 502h3v17h-3zM835 502h3v17h-3zM839 502h3v17h-3zM843 502h3v17h-3zM847 502h3v17h-3zM851 502h3v17h-3zM855 502h3v17h-3zM859 504h3v15h-3zM863 506h3v13h-3zM867 509h3v10h-3zM871 508h3v11h-3zM875 509h3v10h-3zM879 508h3v11h-3zM883 508h3v11h-3zM887 510h3v9h-3zM891 510h3v9h-3zM895 510h3v9h-3zM899 511h3v8h-3zM903 511h3v8h-3zM907 507h3v12h-3zM911 506h3v13h-3zM915 510h3v9h-3zM919 513h3v6h-3zM923 515h3v4h-3z" fill="#c0c0c0"/><path d="M4 545h1v1h-1zM5 545h1v1h-1zM6 545h1v1h-1zM7 544h1v1h-1zM8 544h1v1h-1zM9 544h1v1h-1zM10 544h1v1h-1zM11 544h1v1h-1zM12 544h1v1h-1zM13 544h1v1h-1zM14 544h1v1h-1zM15 545h1v1h-1zM16 545h1v1h-1zM17 545h1v1h-1zM18 546h1v1h-1zM19 546h1v1h-1zM20 547h1v1h-1zM21 547h1v1h-1zM22 548h1v1h-1zM23 548h1v1h-1zM24 549h1v1h-1zM25 550h1v1h-1zM26 550h1v1h-1zM27 551h1v1h-1zM28 552h1v1h-1zM29 552h1v1h-1zM30 553h1v1h-1zM31 553h1v1h-1zM32 554h1v1h-1zM33 554h1v1h-1zM34 555h1v1h-1zM35 555h1v1h-1zM36 556h1v1h-1zM37 556h1v1h-1zM38 557h1v1h-1zM39 557h1v1h-1zM40 558h1v1h-1zM41 558h1v1h-1zM42 558h1v1h-1zM43 559h1v1h-1zM44 559h1v1h-1zM45 559h1v1h-1zM46 559h1v1h-1zM47 560h1v1h-1zM48 560h1v1h-1zM49 560h1v1h-1zM50 560h1v1h-1zM51 561h1v1h-1zM52 561h1v1h-1zM53 561h1v1h-1zM54 561h1v1h-1zM55 561h1v1h-1zM56 561h1v1h-1zM57 561h1v1h-1zM58 561h1v1h-1zM59 562h1v1h-1zM60 562h1v1h-1zM61 562h1v1h-1zM62 562h1v1h-1zM63 562h1v1h-1zM64 562h1v1h-1zM65 562h1v1h-1zM66 562h1v1h-1zM67 563h1v1h-1zM68 563h1v1h-1zM69 563h1v1h-1zM70 563h1v1h-1zM71 563h1v1h-1zM72 563h1v1h-1zM73 563h1v1h-1zM74 563h1v1h-1zM75 562h1v1h-1zM76 562h1v1h-1zM77 562h1v1h-1zM78 562h1v1h-1zM79 562h1v1h-1zM80 562h1v1h-1zM81 562h1v1h-1zM82 561h1v1h-1zM83 561h1v1h-1zM84 560h1v1h-1zM85 560h1v1h-1zM86 559h1v1h-1zM87 559h1v1h-1zM88 558h1v1h-1zM89 558h1v1h-1zM90 558h1v1h-1zM91 557h1v1h-1zM92 557h1v1h-1zM93 557h1v1h-1zM94 556h1v1h-1zM95 556h1v1h-1zM96 555h1v1h-1zM97 555h1v1h-1zM98 555h1v1h-1zM99 554h1v1h-1zM100 554h1v1h-1zM101 554h1v1h-1zM102 553h1v1h-1zM103 553h1v1h-1zM104 552h1v1h-1zM105 552h1v1h-1zM106 552h1v1h-1zM107 552h1v1h-1zM108 552h1v1h-1zM109 552h1v1h-1zM110 552h1v1h-1zM111 552h1v1h-1zM112 552h1v1h-1zM113 552h1v1h-1zM114 552h1v1h-1zM115 552h1v1h-1zM116 552h1v1h-1zM117 552h1v1h-1zM118 552h1v1h-1zM119 552h1v1h-1zM120 552h1v1h-1zM121 552h1v1h-1zM122 552h1v1h-1zM123 553h1v1h-1zM124 553h1v1h-1zM125 553h1v1h-1zM126 553h1v1h-1zM127 553h1v1h-1zM128 553h1v1h-1zM129 553h1v1h-1zM130 553h1v1h-1zM131 553h1v1h-1zM132 553h1v1h-1zM133 553h1v1h-1zM134 553h1v1h-1zM135 553h1v1h-1zM136 553h1v1h-1zM137 553h1v1h-1zM138 553h1v1h-1zM139 552h1v1h-1zM140 552h1v1h-1zM141 552h1v1h-1zM142 551h1v1h-1zM143 551h1v1h-1zM144 550h1v1h-1zM145 550h1v1h-1zM146 550h1v1h-1zM147 549h1v1h-1zM148 549h1v1h-1zM149 549h1v1h-1zM150 549h1v1h-1zM151 548h1v1h-1zM152 548h1v1h-1zM153 548h1v1h-1zM154 548h1v1h-1zM155 547h1v1h-1zM156 547h1v1h-1zM157 547h1v1h-1zM158 547h1v1h-1zM159 546h1v1h-1zM160 546h1v1h-1zM161 546h1v1h-1zM162 545h1v1h-1zM163 545h1v1h-1zM164 544h1v1h-1zM165 544h1v1h-1zM166 544h1v1h-1zM167 543h1v1h-1zM168 543h1v1h-1zM169 543h1v1h-1zM170 543h1v1h-1zM171 542h1v1h-1zM172 542h1v1h-1zM173 542h1v1h-1zM174 542h1v1h-1zM175 541h1v1h-1zM176 541h1v1h-1zM177 541h1v1h-1zM178 541h1v1h-1zM179 540h1v1h-1zM180 540h1v1h-1zM181 540h1v1h-1zM182 540h1v1h-1zM183 539h1v1h-1zM184 539h1v1h-1zM185 539h1v1h-1zM186 539h1v1h-1zM187 538h1v1h-1zM188 538h1v1h-1zM189 538h1v1h-1zM190 537h1v1h-1zM191 537h1v1h-1zM192 536h1v1h-1zM193 536h1v1h-1zM194 536h1v1h-1zM195 536h1v1h-1zM196 536h1v1h-1zM197 536h1v1h-1zM198 536h1v1h-1zM199 536h1v1h-1zM200 536h1v1h-1zM201 536h1v1h-1zM202 536h1v1h-1zM203 536h1v1h-1zM204 536h1v1h-1zM205 536h1v1h-1zM206 536h1v1h-1zM207 536h1v1h-1zM208 536h1v1h-1zM209 536h1v1h-1zM210 536h1v1h-1zM211 537h1v1h-1zM212 537h1v1h-1zM213 537h1v1h-1zM214 538h1v1h-1zM215 538h1v1h-1zM216 539h1v1h-1zM217 539h1v1h-1zM218 539h1v1h-1zM219 540h1v1h-1zM220 540h1v1h-1zM221 540h1v1h-1zM222 541h1v1h-1zM223 541h1v1h-1zM224 542h1v1h-1zM225 542h1v1h-1zM226 542h1v1h-1zM227 543h1v1h-1zM228 543h1v1h-1zM229 543h1v1h-1zM230 544h1v1h-1zM231 544h1v1h-1zM232 545h1v1h-1zM233 545h1v1h-1zM234 545h1v1h-1zM235 546h1v1h-1zM236 546h1v1h-1zM237 546h1v1h-1zM238 546h1v1h-1zM239 547h1v1h-1zM240 547h1v1h-1zM241 547h1v1h-1zM242 547h1v1h-1zM243 547h1v1h-1zM244 547h1v1h-1zM245 547h1v1h-1zM246 547h1v1h-1zM247 546h1v1h-1zM248 546h1v1h-1zM249 546h1v1h-1zM250 546h1v1h-1zM251 545h1v1h-1zM252 545h1v1h-1zM253 545h1v1h-1zM254 544h1v1h-1zM255 544h1v1h-1zM256 543h1v1h-1zM257 543h1v1h-1zM258 542h1v1h-1zM259 542h1v1h-1zM260 541h1v1h-1zM261 541h1v1h-1zM262 541h1v1h-1zM263 540h1v1h-1zM264 540h1v1h-1zM265 540h1v1h-1zM266 539h1v1h-1zM267 539h1v1h-1zM268 538h1v1h-1zM269 538h1v1h-1zM270 538h1v1h-1zM271 537h1v1h-1zM272 537h1v1h-1zM273 537h1v1h-1zM274 536h1v1h-1zM275 536h1v1h-1zM276 535h1v1h-1zM277 535h1v1h-1zM278 534h1v1h-1zM279 534h1v1h-1zM280 533h1v1h-1zM281 533h1v1h-1zM282 533h1v1h-1zM283 532h1v1h-1zM284 532h1v1h-1zM285 532h1v1h-1zM286 532h1v1h-1zM287 531h1v1h-1zM288 531h1v1h-1zM289 531h1v1h-1zM290 530h1v1h-1zM291 530h1v1h-1zM292 529h1v1h-1zM293 529h1v1h-1zM294 529h1v1h-1zM295 529h1v1h-1zM296 529h1v1h-1zM297 529h1v1h-1zM298 529h1v1h-1zM299 529h1v1h-1zM300 529h1v1h-1zM301 529h1v1h-1zM302 529h1v1h-1zM303 529h1v1h-1zM304 529h1v1h-1zM305 529h1v1h-1zM306 529h1v1h-1zM307 528h1v1h-1zM308 528h1v1h-1zM309 528h1v1h-1zM310 528h1v1h-1zM311 528h1v1h-1zM312 528h1v1h-1zM313 528h1v1h-1zM314 528h1v1h-1zM315 529h1v1h-1zM316 529h1v1h-1zM317 529h1v1h-1zM318 529h1v1h-1zM319 529h1v1h-1zM320 529h1v1h-1zM321 529h1v1h-1zM322 529h1v1h-1zM323 529h1v1h-1zM324 529h1v1h-1zM325 529h1v1h-1zM326 529h1v1h-1zM327 530h1v1h-1zM328 530h1v1h-1zM329 530h1v1h-1zM330 530h1v1h-1zM331 530h1v1h-1zM332 530h1v1h-1zM333 530h1v1h-1zM334 530h1v1h-1zM335 531h1v1h-1zM336 531h1v1h-1zM337 531h1v1h-1zM338 531h1v1h-1zM339 532h1v1h-1zM340 532h1v1h-1zM341 532h1v1h-1zM342 532h1v1h-1zM343 533h1v1h-1zM344 533h1v1h-1zM345 533h1v1h-1zM346 533h1v1h-1zM347 534h1v1h-1zM348 534h1v1h-1zM349 534h1v1h-1zM350 534h1v1h-1zM351 535h1v1h-1zM352 535h1v1h-1zM353 535h1v1h-1zM354 536h1v1h-1zM355 536h1v1h-1zM356 537h1v1h-1zM357 537h1v1h-1zM358 537h1v1h-1zM359 538h1v1h-1zM360 538h1v1h-1zM361 538h1v1h-1zM362 538h1v1h-1zM363 538h1v1h-1zM364 538h1v1h-1zM365 538h1v1h-1zM366 538h1v1h-1zM367 538h1v1h-1zM368 538h1v1h-1zM369 538h1v1h-1zM370 538h1v1h-1zM371 537h1v1h-1zM372 537h1v1h-1zM373 537h1v1h-1zM374 536h1v1h-1zM375 536h1v1h-1zM376 535h1v1h-1zM377 535h1v1h-1zM378 535h1v1h-1zM379 534h1v1h-1zM380 534h1v1h-1zM381 534h1v1h-1zM382 533h1v1h-1zM383 533h1v1h-1zM384 532h1v1h-1zM385 531h1v1h-1zM386 531h1v1h-1zM387 530h1v1h-1zM388 529h1v1h-1zM389 528h1v1h-1zM390 528h1v1h-1zM391 527h1v1h-1zM392 526h1v1h-1zM393 525h1v1h-1zM394 525h1v1h-1zM395 524h1v1h-1zM396 523h1v1h-1zM397 523h1v1h-1zM398 523h1v1h-1zM399 522h1v1h-1zM400 522h1v1h-1zM401 522h1v1h-1zM402 521h1v1h-1zM403 521h1v1h-1zM404 520h1v1h-1zM405 520h1v1h-1zM406 520h1v1h-1zM407 519h1v1h-1zM408 519h1v1h-1zM409 519h1v1h-1zM410 519h1v1h-1zM411 518h1v1h-1zM412 518h1v1h-1zM413 518h1v1h-1zM414 517h1v1h-1zM415 517h1v1h-1zM416 516h1v1h-1zM417 515h1v1h-1zM418 515h1v1h-1zM419 514h1v1h-1zM420 513h1v1h-1zM421 513h1v1h-1zM422 512h1v1h-1zM423 512h1v1h-1zM424 511h1v1h-1zM425 511h1v1h-1zM426 510h1v1h-1zM427 510h1v1h-1zM428 509h1v1h-1zM429 509h1v1h-1zM430 508h1v1h-1zM431 508h1v1h-1zM432 507h1v1h-1zM433 507h1v1h-1zM434 507h1v1h-1zM435 506h1v1h-1zM436 506h1v1h-1zM437 506h1v1h-1zM438 506h1v1h-1zM439 505h1v1h-1zM440 505h1v1h-1zM441 505h1v1h-1zM442 505h1v1h-1zM443 504h1v1h-1zM444 504h1v1h-1zM445 504h1v1h-1zM446 504h1v1h-1zM447 503h1v1h-1zM448 503h1v1h-1zM449 503h1v1h-1zM450 503h1v1h-1zM451 502h1v1h-1zM452 502h1v1h-1zM453 502h1v1h-1zM454 502h1v1h-1zM455 502h1v1h-1zM456 502h1v1h-1zM457 502h1v1h-1zM458 502h1v1h-1zM459 503h1v1h-1zM460 503h1v1h-1zM461 503h1v1h-1zM462 503h1v1h-1zM463 503h1v1h-1zM464 503h1v1h-1zM465 503h1v1h-1zM466 503h1v1h-1zM467 504h1v1h-1zM468 504h1v1h-1zM469 504h1v1h-1zM470 504h1v1h-1zM471 505h1v1h-1zM472 505h1v1h-1zM473 505h1v1h-1zM474 505h1v1h-1zM475 506h1v1h-1zM476 506h1v1h-1zM477 506h1v1h-1zM478 506h1v1h-1zM479 506h1v1h-1zM480 506h1v1h-1zM481 506h1v1h-1zM482 506h1v1h-1zM483 506h1v1h-1zM484 506h1v1h-1zM485 506h1v1h-1zM486 506h1v1h-1zM487 505h1v1h-1zM488 505h1v1h-1zM489 505h1v1h-1zM490 505h1v1h-1zM491 505h1v1h-1zM492 505h1v1h-1zM493 505h1v1h-1zM494 505h1v1h-1zM495 504h1v1h-1zM496 504h1v1h-1zM497 504h1v1h-1zM498 503h1v1h-1zM499 503h1v1h-1zM500 502h1v1h-1zM501 502h1v1h-1zM502 502h1v1h-1zM503 501h1v1h-1zM504 501h1v1h-1zM505 501h1v1h-1zM506 500h1v1h-1zM507 500h1v1h-1zM508 499h1v1h-1zM509 499h1v1h-1zM510 499h1v1h-1zM511 498h1v1h-1zM512 498h1v1h-1zM513 498h1v1h-1zM514 497h1v1h-1zM515 497h1v1h-1zM516 496h1v1h-1zM517 496h1v1h-1zM518 496h1v1h-1zM519 495h1v1h-1zM520 495h1v1h-1zM521 495h1v1h-1zM522 495h1v1h-1zM523 494h1v1h-1zM524 494h1v1h-1zM525 494h1v1h-1zM526 494h1v1h-1zM527 494h1v1h-1zM528 494h1v1h-1zM529 494h1v1h-1zM530 494h1v1h-1zM531 494h1v1h-1zM532 494h1v1h-1zM533 494h1v1h-1zM534 494h1v1h-1zM535 495h1v1h-1zM536 495h1v1h-1zM537 495h1v1h-1zM538 495h1v1h-1zM539 496h1v1h-1zM540 496h1v1h-1zM541 496h1v1h-1zM542 496h1v1h-1zM543 497h1v1h-1zM544 497h1v1h-1zM545 497h1v1h-1zM546 497h1v1h-1zM547 498h1v1h-1zM548 498h1v1h-1zM549 498h1v1h-1zM550 499h1v1h-1zM551 499h1v1h-1zM552 500h1v1h-1zM553 501h1v1h-1zM554 501h1v1h-1zM555 502h1v1h-1zM556 503h1v1h-1zM557 503h1v1h-1zM558 503h1v1h-1zM559 504h1v1h-1zM560 504h1v1h-1zM561 504h1v1h-1zM562 505h1v1h-1zM563 505h1v1h-1zM564 506h1v1h-1zM565 507h1v1h-1zM566 507h1v1h-1zM567 508h1v1h-1zM568 509h1v1h-1zM569 509h1v1h-1zM570 510h1v1h-1zM571 510h1v1h-1zM572 511h1v1h-1zM573 512h1v1h-1zM574 512h1v1h-1zM575 513h1v1h-1zM576 514h1v1h-1zM577 515h1v1h-1zM578 515h1v1h-1zM579 516h1v1h-1zM580 517h1v1h-1zM581 518h1v1h-1zM582 518h1v1h-1zM583 519h1v1h-1zM584 520h1v1h-1zM585 520h1v1h-1zM586 521h1v1h-1zM587 521h1v1h-1zM588 522h1v1h-1zM589 523h1v1h-1zM590 523h1v1h-1zM591 524h1v1h-1zM592 525h1v1h-1zM593 526h1v1h-1zM594 526h1v1h-1zM595 527h1v1h-1zM596 528h1v1h-1zM597 528h1v1h-1zM598 529h1v1h-1zM599 529h1v1h-1zM600 530h1v1h-1zM601 530h1v1h-1zM602 531h1v1h-1zM603 531h1v1h-1zM604 532h1v1h-1zM605 532h1v1h-1zM606 533h1v1h-1zM607 533h1v1h-1zM608 534h1v1h-1zM609 534h1v1h-1zM610 534h1v1h-1zM611 535h1v1h-1zM612 535h1v1h-1zM613 535h1v1h-1zM614 536h1v1h-1zM615 536h1v1h-1zM616 537h1v1h-1zM617 537h1v1h-1zM618 537h1v1h-1zM619 538h1v1h-1zM620 538h1v1h-1zM621 538h1v1h-1zM622 538h1v1h-1zM623 538h1v1h-1zM624 538h1v1h-1zM625 538h1v1h-1zM626 538h1v1h-1zM627 539h1v1h-1zM628 539h1v1h-1zM629 539h1v1h-1zM630 539h1v1h-1zM631 539h1v1h-1zM632 539h1v1h-1zM633 539h1v1h-1zM634 539h1v1h-1zM635 540h1v1h-1zM636 540h1v1h-1zM637 540h1v1h-1zM638 540h1v1h-1zM639 541h1v1h-1zM640 541h1v1h-1zM641 541h1v1h-1zM642 541h1v1h-1zM643 542h1v1h-1zM644 542h1v1h-1zM645 542h1v1h-1zM646 542h1v1h-1zM647 543h1v1h-1zM648 543h1v1h-1zM649 543h1v1h-1zM650 543h1v1h-1zM651 544h1v1h-1zM652 544h1v1h-1zM653 544h1v1h-1zM654 544h1v1h-1zM655 544h1v1h-1zM656 544h1v1h-1zM657 544h1v1h-1zM658 544h1v1h-1zM659 545h1v1h-1zM660 545h1v1h-1zM661 545h1v1h-1zM662 545h1v1h-1zM663 545h1v1h-1zM664 545h1v1h-1zM665 545h1v1h-1zM666 545h1v1h-1zM667 545h1v1h-1zM668 545h1v1h-1zM669 545h1v1h-1zM670 545h1v1h-1zM671 545h1v1h-1zM672 545h1v1h-1zM673 545h1v1h-1zM674 545h1v1h-1zM675 544h1v1h-1zM676 544h1v1h-1zM677 544h1v1h-1zM678 544h1v1h-1zM679 543h1v1h-1zM680 543h1v1h-1zM681 543h1v1h-1zM682 543h1v1h-1zM683 542h1v1h-1zM684 542h1v1h-1zM685 542h1v1h-1zM686 542h1v1h-1zM687 542h1v1h-1zM688 542h1v1h-1zM689 542h1v1h-1zM690 542h1v1h-1zM691 541h1v1h-1zM692 541h1v1h-1zM693 541h1v1h-1zM694 541h1v1h-1zM695 541h1v1h-1zM696 541h1v1h-1zM697 541h1v1h-1zM698 541h1v1h-1zM699 542h1v1h-1zM700 542h1v1h-1zM701 542h1v1h-1zM702 542h1v1h-1zM703 543h1v1h-1zM704 543h1v1h-1zM705 543h1v1h-1zM706 543h1v1h-1zM707 544h1v1h-1zM708 544h1v1h-1zM709 544h1v1h-1zM710 544h1v1h-1zM711 545h1v1h-1zM712 545h1v1h-1zM713 545h1v1h-1zM714 546h1v1h-1zM715 546h1v1h-1zM716 547h1v1h-1zM717 547h1v1h-1zM718 547h1v1h-1zM719 548h1v1h-1zM720 548h1v1h-1zM721 548h1v1h-1zM722 548h1v1h-1zM723 549h1v1h-1zM724 549h1v1h-1zM725 549h1v1h-1zM726 549h1v1h-1zM727 550h1v1h-1zM728 550h1v1h-1zM729 550h1v1h-1zM730 550h1v1h-1zM731 550h1v1h-1zM732 550h1v1h-1zM733 550h1v1h-1zM734 550h1v1h-1zM735 549h1v1h-1zM736 549h1v1h-1zM737 549h1v1h-1zM738 549h1v1h-1zM739 548h1v1h-1zM740 548h1v1h-1zM741 548h1v1h-1zM742 547h1v1h-1zM743 547h1v1h-1zM744 546h1v1h-1zM745 546h1v1h-1zM746 545h1v1h-1zM747 545h1v1h-1zM748 544h1v1h-1zM749 544h1v1h-1zM750 543h1v1h-1zM751 543h1v1h-1zM752 542h1v1h-1zM753 542h1v1h-1zM754 542h1v1h-1zM755 541h1v1h-1zM756 541h1v1h-1zM757 541h1v1h-1zM758 540h1v1h-1zM759 540h1v1h-1zM760 539h1v1h-1zM761 539h1v1h-1zM762 539h1v1h-1zM763 538h1v1h-1zM764 538h1v1h-1zM765 538h1v1h-1zM766 537h1v1h-1zM767 537h1v1h-1zM768 536h1v1h-1zM769 536h1v1h-1zM770 535h1v1h-1zM771 535h1v1h-1zM772 534h1v1h-1zM773 533h1v1h-1zM774 533h1v1h-1zM775 532h1v1h-1zM776 531h1v1h-1zM777 530h1v1h-1zM778 530h1v1h-1zM779 529h1v1h-1zM780 528h1v1h-1zM781 527h1v1h-1zM782 527h1v1h-1zM783 526h1v1h-1zM784 525h1v1h-1zM785 524h1v1h-1zM786 523h1v1h-1zM787 522h1v1h-1zM788 521h1v1h-1zM789 520h1v1h-1zM790 520h1v1h-1zM791 519h1v1h-1zM792 518h1v1h-1zM793 517h1v1h-1zM794 516h1v1h-1zM795 515h1v1h-1zM796 514h1v1h-1zM797 513h1v1h-1zM798 513h1v1h-1zM799 512h1v1h-1zM800 511h1v1h-1zM801 510h1v1h-1zM802 509h1v1h-1zM803 508h1v1h-1zM804 507h1v1h-1zM805 507h1v1h-1zM806 506h1v1h-1zM807 506h1v1h-1zM808 505h1v1h-1zM809 504h1v1h-1zM810 504h1v1h-1zM811 503h1v1h-1zM812 502h1v1h-1zM813 502h1v1h-1zM814 502h1v1h-1zM815 501h1v1h-1zM816 501h1v1h-1zM817 501h1v1h-1zM818 501h1v1h-1zM819 501h1v1h-1zM820 501h1v1h-1zM821 501h1v1h-1zM822 501h1v1h-1zM823 501h1v1h-1zM824 501h1v1h-1zM825 501h1v1h-1zM826 501h1v1h-1zM827 501h1v1h-1zM828 501h1v1h-1zM829 501h1v1h-1zM830 501h1v1h-1zM831 501h1v1h-1zM832 501h1v1h-1zM833 501h1v1h-1zM834 501h1v1h-1zM835 501h1v1h-1zM836 501h1v1h-1zM837 501h1v1h-1zM838 501h1v1h-1zM839 501h1v1h-1zM840 501h1v1h-1zM841 501h1v1h-1zM842 501h1v1h-1zM843 501h1v1h-1zM844 501h1v1h-1zM845 501h1v1h-1zM846 501h1v1h-1zM847 501h1v1h-1zM848 501h1v1h-1zM849 501h1v1h-1zM850 501h1v1h-1zM851 501h1v1h-1zM852 501h1v1h-1zM853 501h1v1h-1zM854 501h1v1h-1zM855 501h1v1h-1zM856 501h1v1h-1zM857 501h1v1h-1zM858 501h1v1h-1zM859 502h1v1h-1zM860 502h1v1h-1zM861 502h1v1h-1zM862 502h1v1h-1zM863 502h1v1h-1zM864 502h1v1h-1zM865 502h1v1h-1zM866 502h1v1h-1zM867 503h1v1h-1zM868 503h1v1h-1zM869 503h1v1h-1zM870 503h1v1h-1zM871 504h1v1h-1zM872 504h1v1h-1zM873 504h1v1h-1zM874 504h1v1h-1zM875 505h1v1h-1zM876 505h1v1h-1zM877 505h1v1h-1zM878 505h1v1h-1zM879 505h1v1h-1zM880 505h1v1h-1zM881 505h1v1h-1zM882 505h1v1h-1zM883 506h1v1h-1zM884 506h1v1h-1zM885 506h1v1h-1zM886 506h1v1h-1zM887 507h1v1h-1zM888 507h1v1h-1zM889 507h1v1h-1zM890 507h1v1h-1zM891 508h1v1h-1zM892 508h1v1h-1zM893 508h1v1h-1zM894 508h1v1h-1zM895 509h1v1h-1zM896 509h1v1h-1zM897 509h1v1h-1zM898 509h1v1h-1zM899 509h1v1h-1zM900 509h1v1h-1zM901 509h1v1h-1zM902 509h1v1h-1zM903 510h1v1h-1zM904 510h1v1h-1zM905 510h1v1h-1zM906 510h1v1h-1zM907 509h1v1h-1zM908 509h1v1h-1zM909 509h1v1h-1zM910 509h1v1h-1zM911 509h1v1h-1zM912 509h1v1h-1zM913 509h1v1h-1zM914 509h1v1h-1zM915 509h1v1h-1zM916 509h1v1h-1zM917 509h1v1h-1zM918 509h1v1h-1zM919 510h1v1h-1zM920 510h1v1h-1zM921 510h1v1h-1zM922 510h1v1h-1zM923 510h1v1h-1z" fill="#ff0000"/></g><g clip-path="url(#c1)"><path d="M14 103h1v1h-1zM15 104h1v1h-1zM16 105h1v1h-1zM17 106h1v1h-1zM18 107h1v2h-1zM19 109h1v1h-1zM20 110h1v1h-1zM21 111h1v2h-1zM22 113h1v1h-1zM23 114h1v2h-1zM24 116h1v1h-1zM25 117h1v2h-1zM26 119h1v1h-1zM27 120h1v2h-1zM28 122h1v1h-1zM29 123h1v1h-1zM30 124h1v2h-1zM31 126h1v1h-1zM32 127h1v1h-1zM33 128h1v1h-1zM34 129h1v2h-1zM35 131h1v1h-1zM36 132h1v1h-1zM37 133h1v1h-1zM38 134h1v2h-1zM39 136h1v1h-1zM40 137h1v1h-1zM41 138h1v2h-1zM42 140h1v1h-1zM43 141h1v2h-1zM44 143h1v1h-1zM45 144h1v2h-1zM46 146h1v1h-1zM47 147h1v2h-1zM48 149h1v1h-1zM49 150h1v1h-1zM50 151h1v1h-1zM51 152h1v1h-1zM52 153h1v1h-1zM53 154h1v1h-1zM54 155h1v1h-1zM55 156h1v1h-1zM56 157h1v1h-1zM57 158h1v1h-1zM58 159h1v2h-1zM59 161h1v1h-1zM60 162h1v1h-1zM61 163h1v1h-1zM62 164h1v2h-1zM63 166h1v1h-1zM64 167h1v1h-1zM65 168h1v1h-1zM66 169h1v1h-1zM67 170h1v1h-1zM68 171h1v1h-1zM69 172h1v1h-1zM70 172h1v1h-1zM71 173h1v1h-1zM72 174h1v1h-1zM73 174h1v1h-1zM74 175h1v1h-1zM75 175h1v1h-1zM76 176h1v1h-1zM77 177h1v1h-1zM78 178h1v1h-1zM79 179h1v1h-1zM80 180h1v1h-1zM81 181h1v1h-1zM82 182h1v1h-1zM83 183h1v1h-1zM84 184h1v1h-1zM85 185h1v1h-1zM86 186h1v2h-1zM87 188h1v1h-1zM88 189h1v1h-1zM89 190h1v1h-1zM90 190h1v1h-1zM91 191h1v1h-1zM92 192h1v1h-1zM93 193h1v1h-1zM94 194h1v1h-1zM95 195h1v1h-1zM96 196h1v1h-1zM97 197h1v1h-1zM98 197h1v1h-1zM99 198h1v1h-1zM100 199h1v1h-1zM101 200h1v1h-1zM102 201h1v1h-1zM103 202h1v1h-1zM104 203h1v1h-1zM105 204h1v1h-1zM106 205h1v1h-1zM107 206h1v1h-1zM108 207h1v1h-1zM109 208h1v1h-1zM110 209h1v1h-1zM111 210h1v1h-1zM112 211h1v1h-1zM113 212h1v1h-1zM114 213h1v1h-1zM115 214h1v1h-1zM116 215h1v1h-1zM117 216h1v1h-1zM118 216h1v1h-1zM119 217h1v1h-1zM120 218h1v1h-1zM121 219h1v1h-1zM122 220h1v1h-1zM123 221h1v1h-1zM124 222h1v1h-1zM125 223h1v1h-1zM126 223h1v1h-1zM127 224h1v1h-1zM128 225h1v1h-1zM129 226h1v1h-1zM130 227h1v2h-1zM131 229h1v1h-1zM132 230h1v1h-1zM133 231h1v1h-1zM134 232h1v1h-1zM135 233h1v1h-1zM136 234h1v1h-1zM137 235h1v1h-1zM138 236h1v1h-1zM139 237h1v1h-1zM140 238h1v1h-1zM141 239h1v1h-1zM142 240h1v1h-1zM143 241h1v1h-1zM144 242h1v1h-1zM145 243h1v1h-1zM146 244h1v2h-1zM147 246h1v1h-1zM148 247h1v1h-1zM149 248h1v1h-1zM150 249h1v2h-1zM151 251h1v1h-1zM152 252h1v1h-1zM153 253h1v1h-1zM154 254h1v2h-1zM155 256h1v1h-1zM156 257h1v1h-1zM157 258h1v1h-1zM158 259h1v1h-1zM159 260h1v1h-1zM160 261h1v1h-1zM161 262h1v1h-1zM162 262h1v1h-1zM163 263h1v1h-1zM164 264h1v1h-1zM165 264h1v1h-1zM166 264h1v1h-1zM167 265h1v1h-1zM168 265h1v1h-1zM169 265h1v1h-1zM170 266h1v1h-1zM171 266h1v1h-1zM172 267h1v1h-1zM173 267h1v1h-1zM174 268h1v1h-1zM175 268h1v1h-1zM176 269h1v1h-1zM177 269h1v1h-1zM178 270h1v1h-1zM179 270h1v1h-1zM180 271h1v1h-1zM181 271h1v1h-1zM182 272h1v1h-1zM183 272h1v1h-1zM184 273h1v1h-1zM185 273h1v1h-1zM186 274h1v1h-1zM187 274h1v1h-1zM188 275h1v1h-1zM189 276h1v1h-1zM190 276h1v1h-1zM191 277h1v1h-1zM192 278h1v1h-1zM193 279h1v1h-1zM194 279h1v1h-1zM195 280h1v1h-1zM196 281h1v1h-1zM197 281h1v1h-1zM198 282h1v1h-1zM199 282h1v1h-1zM200 283h1v1h-1zM201 283h1v1h-1zM202 284h1v1h-1zM203 284h1v1h-1zM204 285h1v1h-1zM205 286h1v1h-1zM206 286h1v1h-1zM207 287h1v1h-1zM208 288h1v1h-1zM209 288h1v1h-1zM210 289h1v1h-1zM211 289h1v1h-1zM212 290h1v1h-1zM213 291h1v1h-1zM214 291h1v1h-1zM215 292h1v1h-1zM216 293h1v1h-1zM217 294h1v1h-1zM218 294h1v1h-1zM219 295h1v1h-1zM220 296h1v1h-1zM221 296h1v1h-1zM222 297h1v1h-1zM223 297h1v1h-1zM224 298h1v1h-1zM225 299h1v1h-1zM226 299h1v1h-1zM227 300h1v1h-1zM228 301h1v1h-1zM229 302h1v1h-1zM230 302h1v1h-1zM231 303h1v1h-1zM232 304h1v1h-1zM233 305h1v1h-1zM234 305h1v1h-1zM235 306h1v1h-1zM236 307h1v1h-1zM237 308h1v1h-1zM238 308h1v1h-1zM239 309h1v1h-1zM240 310h1v1h-1zM241 310h1v1h-1zM242 311h1v1h-1zM243 311h1v1h-1zM244 312h1v1h-1zM245 312h1v1h-1zM246 313h1v1h-1zM247 313h1v1h-1zM248 314h1v1h-1zM249 314h1v1h-1zM250 315h1v1h-1zM251 315h1v1h-1zM252 316h1v1h-1zM253 316h1v1h-1zM254 317h1v1h-1zM255 317h1v1h-1zM256 318h1v1h-1zM257 318h1v1h-1zM258 319h1v1h-1zM259 319h1v1h-1zM260 320h1v1h-1zM261 320h1v1h-1zM262 321h1v1h-1zM263 321h1v1h-1zM264 322h1v1h-1zM265 322h1v1h-1zM266 322h1v1h-1zM267 323h1v1h-1zM268 323h1v1h-1zM269 323h1v1h-1zM270 323h1v1h-1zM271 324h1v1h-1zM272 324h1v1h-1zM273 324h1v1h-1zM274 324h1v1h-1zM275 324h1v1h-1zM276 324h1v1h-1zM277 324h1v1h-1zM278 324h1v1h-1zM279 325h1v1h-1zM280 325h1v1h-1zM281 325h1v1h-1zM282 325h1v1h-1zM283 326h1v1h-1zM284 326h1v1h-1zM285 326h1v1h-1zM286 327h1v1h-1zM287 327h1v1h-1zM288 328h1v1h-1zM289 328h1v1h-1zM290 329h1v1h-1zM291 329h1v1h-1zM292 330h1v1h-1zM293 330h1v1h-1zM294 331h1v1h-1zM295 331h1v1h-1zM296 332h1v1h-1zM297 332h1v1h-1zM298 333h1v1h-1zM299 333h1v1h-1zM300 334h1v1h-1zM301 334h1v1h-1zM302 334h1v1h-1zM303 335h1v1h-1zM304 335h1v1h-1zM305 335h1v1h-1zM306 335h1v1h-1zM307 336h1v1h-1zM308 336h1v1h-1zM309 336h1v1h-1zM310 336h1v1h-1zM311 337h1v1h-1zM312 337h1v1h-1zM313 337h1v1h-1zM314 338h1v1h-1zM315 338h1v1h-1zM316 339h1v1h-1zM317 339h1v1h-1zM318 339h1v1h-1zM319 340h1v1h-1zM320 340h1v1h-1zM321 340h1v1h-1zM322 341h1v1h-1zM323 341h1v1h-1zM324 342h1v1h-1zM325 343h1v1h-1zM326 343h1v1h-1zM327 344h1v1h-1zM328 345h1v1h-1zM329 345h1v1h-1zM330 346h1v1h-1zM331 346h1v1h-1zM332 347h1v1h-1zM333 348h1v1h-1zM334 348h1v1h-1zM335 349h1v1h-1zM336 350h1v1h-1zM337 350h1v1h-1zM338 351h1v1h-1zM339 351h1v1h-1zM340 352h1v1h-1zM341 353h1v1h-1zM342 353h1v1h-1zM343 354h1v1h-1zM344 355h1v1h-1zM345 356h1v1h-1zM346 356h1v1h-1zM347 357h1v1h-1zM348 358h1v1h-1zM349 358h1v1h-1zM350 359h1v1h-1zM351 359h1v1h-1zM352 360h1v1h-1zM353 360h1v1h-1zM354 361h1v1h-1zM355 361h1v1h-1zM356 362h1v1h-1zM357 362h1v1h-1zM358 363h1v1h-1zM359 363h1v1h-1zM360 364h1v1h-1zM361 364h1v1h-1zM362 364h1v1h-1zM363 364h1v1h-1zM364 364h1v1h-1zM365 364h1v1h-1zM366 364h1v1h-1zM367 364h1v1h-1zM368 364h1v1h-1zM369 364h1v1h-1zM370 364h1v1h-1zM371 364h1v1h-1zM372 364h1v1h-1zM373 364h1v1h-1zM374 364h1v1h-1zM375 363h1v1h-1zM376 363h1v1h-1zM377 363h1v1h-1zM378 363h1v1h-1zM379 363h1v1h-1zM380 363h1v1h-1zM381 363h1v1h-1zM382 363h1v1h-1zM383 363h1v1h-1zM384 363h1v1h-1zM385 363h1v1h-1zM386 363h1v1h-1zM387 363h1v1h-1zM388 363h1v1h-1zM389 363h1v1h-1zM390 363h1v1h-1zM391 363h1v1h-1zM392 363h1v1h-1zM393 363h1v1h-1zM394 363h1v1h-1zM395 363h1v1h-1zM396 363h1v1h-1zM397 363h1v1h-1zM398 363h1v1h-1zM399 363h1v1h-1zM400 363h1v1h-1zM401 363h1v1h-1zM402 363h1v1h-1zM403 363h1v1h-1zM404 363h1v1h-1zM405 363h1v1h-1zM406 363h1v1h-1zM407 363h1v1h-1zM408 363h1v1h-1zM409 363h1v1h-1zM410 363h1v1h-1zM411 363h1v1h-1zM412 363h1v1h-1zM413 363h1v1h-1zM414 363h1v1h-1zM415 363h1v1h-1zM416 363h1v1h-1zM417 363h1v1h-1zM418 363h1v1h-1zM419 362h1v1h-1zM420 362h1v1h-1zM421 361h1v1h-1zM422 361h1v1h-1zM423 360h1v1h-1zM424 359h1v1h-1zM425 359h1v1h-1zM426 359h1v1h-1zM427 358h1v1h-1zM428 358h1v1h-1zM429 358h1v1h-1zM430 358h1v1h-1zM431 358h1v1h-1zM432 358h1v1h-1zM433 358h1v1h-1zM434 358h1v1h-1zM435 358h1v1h-1zM436 358h1v1h-1zM437 358h1v1h-1zM438 358h1v1h-1zM439 357h1v1h-1zM440 357h1v1h-1zM441 357h1v1h-1zM442 357h1v1h-1zM443 357h1v1h-1zM444 357h1v1h-1zM445 357h1v1h-1zM446 357h1v1h-1zM447 357h1v1h-1zM448 357h1v1h-1zM449 357h1v1h-1zM450 356h1v1h-1zM451 356h1v1h-1zM452 355h1v1h-1zM453 355h1v1h-1zM454 355h1v1h-1zM455 354h1v1h-1zM456 354h1v1h-1zM457 354h1v1h-1zM458 353h1v1h-1zM459 353h1v1h-1zM460 352h1v1h-1zM461 352h1v1h-1zM462 352h1v1h-1zM463 351h1v1h-1zM464 351h1v1h-1zM465 351h1v1h-1zM466 351h1v1h-1zM467 350h1v1h-1zM468 350h1v1h-1zM469 350h1v1h-1zM470 350h1v1h-1zM471 349h1v1h-1zM472 349h1v1h-1zM473 349h1v1h-1zM474 349h1v1h-1zM475 348h1v1h-1zM476 348h1v1h-1zM477 348h1v1h-1zM478 347h1v1h-1zM479 347h1v1h-1zM480 346h1v1h-1zM481 346h1v1h-1zM482 345h1v1h-1zM483 345h1v1h-1zM484 344h1v1h-1zM485 344h1v1h-1zM486 343h1v1h-1zM487 343h1v1h-1zM488 342h1v1h-1zM489 341h1v1h-1zM490 341h1v1h-1zM491 340h1v1h-1zM492 339h1v1h-1zM493 338h1v1h-1zM494 338h1v1h-1zM495 337h1v1h-1zM496 336h1v1h-1zM497 335h1v1h-1zM498 335h1v1h-1zM499 334h1v1h-1zM500 333h1v1h-1zM501 332h1v1h-1zM502 331h1v1h-1zM503 330h1v1h-1zM504 329h1v1h-1zM505 328h1v1h-1zM506 326h1v2h-1zM507 325h1v1h-1zM508 324h1v1h-1zM509 323h1v1h-1zM510 322h1v1h-1zM511 321h1v1h-1zM512 320h1v1h-1zM513 319h1v1h-1zM514 318h1v1h-1zM515 317h1v1h-1zM516 316h1v1h-1zM517 315h1v1h-1zM518 315h1v1h-1zM519 314h1v1h-1zM520 313h1v1h-1zM521 313h1v1h-1zM522 312h1v1h-1zM523 312h1v1h-1zM524 311h1v1h-1zM525 311h1v1h-1zM526 310h1v1h-1zM527 310h1v1h-1zM528 309h1v1h-1zM529 309h1v1h-1zM530 308h1v1h-1zM531 308h1v1h-1zM532 307h1v1h-1zM533 307h1v1h-1zM534 306h1v1h-1zM535 306h1v1h-1zM536 305h1v1h-1zM537 304h1v1h-1zM538 304h1v1h-1zM539 303h1v1h-1zM540 302h1v1h-1zM541 302h1v1h-1zM542 301h1v1h-1zM543 301h1v1h-1zM544 300h1v1h-1zM545 300h1v1h-1zM546 299h1v1h-1zM547 299h1v1h-1zM548 298h1v1h-1zM549 298h1v1h-1zM550 298h1v1h-1zM551 297h1v1h-1zM552 297h1v1h-1zM553 297h1v1h-1zM554 296h1v1h-1zM555 296h1v1h-1zM556 295h1v1h-1zM557 295h1v1h-1zM558 295h1v1h-1zM559 294h1v1h-1zM560 294h1v1h-1zM561 294h1v1h-1zM562 293h1v1h-1zM563 293h1v1h-1zM564 292h1v1h-1zM565 292h1v1h-1zM566 292h1v1h-1zM567 291h1v1h-1zM568 291h1v1h-1zM569 291h1v1h-1zM570 291h1v1h-1zM571 291h1v1h-1zM572 291h1v1h-1zM573 291h1v1h-1zM574 291h1v1h-1zM575 292h1v1h-1zM576 292h1v1h-1zM577 292h1v1h-1zM578 292h1v1h-1zM579 293h1v1h-1zM580 293h1v1h-1zM581 293h1v1h-1zM582 293h1v1h-1zM583 294h1v1h-1zM584 294h1v1h-1zM585 294h1v1h-1zM586 294h1v1h-1zM587 295h1v1h-1zM588 295h1v1h-1zM589 295h1v1h-1zM590 295h1v1h-1zM591 296h1v1h-1zM592 296h1v1h-1zM593 296h1v1h-1zM594 296h1v1h-1zM595 296h1v1h-1zM596 296h1v1h-1zM597 296h1v1h-1zM598 296h1v1h-1zM599 297h1v1h-1zM600 297h1v1h-1zM601 297h1v1h-1zM602 297h1v1h-1zM603 298h1v1h-1zM604 298h1v1h-1zM605 298h1v1h-1zM606 298h1v1h-1zM607 299h1v1h-1zM608 299h1v1h-1zM609 299h1v1h-1zM610 299h1v1h-1zM611 299h1v1h-1zM612 299h1v1h-1zM613 299h1v1h-1zM614 299h1v1h-1zM615 300h1v1h-1zM616 300h1v1h-1zM617 300h1v1h-1zM618 300h1v1h-1zM619 301h1v1h-1zM620 301h1v1h-1zM621 301h1v1h-1zM622 301h1v1h-1zM623 301h1v1h-1zM624 301h1v1h-1zM625 301h1v1h-1zM626 301h1v1h-1zM627 302h1v1h-1zM628 302h1v1h-1zM629 302h1v1h-1zM630 303h1v1h-1zM631 303h1v1h-1zM632 304h1v1h-1zM633 305h1v1h-1zM634 305h1v1h-1zM635 306h1v1h-1zM636 307h1v1h-1zM637 308h1v1h-1zM638 308h1v1h-1zM639 309h1v1h-1zM640 310h1v1h-1zM641 311h1v1h-1zM642 311h1v1h-1zM643 312h1v1h-1zM644 313h1v1h-1zM645 313h1v1h-1zM646 314h1v1h-1zM647 314h1v1h-1zM648 315h1v1h-1zM649 315h1v1h-1zM650 316h1v1h-1zM651 316h1v1h-1zM652 317h1v1h-1zM653 318h1v1h-1zM654 319h1v1h-1zM655 320h1v1h-1zM656 321h1v1h-1zM657 322h1v1h-1zM658 322h1v1h-1zM659 323h1v1h-1zM660 324h1v1h-1zM661 325h1v1h-1zM662 325h1v1h-1zM663 326h1v1h-1zM664 327h1v1h-1zM665 328h1v1h-1zM666 329h1v1h-1zM667 330h1v1h-1zM668 331h1v1h-1zM669 332h1v1h-1zM670 333h1v1h-1zM671 334h1v1h-1zM672 335h1v1h-1zM673 336h1v1h-1zM674 336h1v1h-1zM675 337h1v1h-1zM676 338h1v1h-1zM677 339h1v1h-1zM678 339h1v1h-1zM679 340h1v1h-1zM680 341h1v1h-1zM681 342h1v1h-1zM682 342h1v1h-1zM683 343h1v1h-1zM684 344h1v1h-1zM685 345h1v1h-1zM686 345h1v1h-1zM687 346h1v1h-1zM688 347h1v1h-1zM689 348h1v1h-1zM690 348h1v1h-1zM691 349h1v1h-1zM692 350h1v1h-1zM693 351h1v1h-1zM694 352h1v1h-1zM695 353h1v1h-1zM696 354h1v1h-1zM697 355h1v1h-1zM698 356h1v2h-1zM699 358h1v1h-1zM700 359h1v1h-1zM701 360h1v1h-1zM702 361h1v2h-1zM703 363h1v1h-1zM704 364h1v1h-1zM705 365h1v1h-1zM706 366h1v2h-1zM707 368h1v1h-1zM708 369h1v1h-1zM709 370h1v1h-1zM710 371h1v1h-1zM711 372h1v1h-1zM712 373h1v1h-1zM713 374h1v1h-1zM714 375h1v1h-1zM715 376h1v1h-1zM716 377h1v1h-1zM717 378h1v1h-1zM718 378h1v1h-1zM719 379h1v1h-1zM720 380h1v1h-1zM721 381h1v1h-1zM722 382h1v1h-1zM723 383h1v1h-1zM724 384h1v1h-1zM725 385h1v1h-1zM726 385h1v1h-1zM727 386h1v1h-1zM728 387h1v1h-1zM729 387h1v1h-1zM730 388h1v1h-1zM731 388h1v1h-1zM732 389h1v1h-1zM733 389h1v1h-1zM734 390h1v1h-1zM735 390h1v1h-1zM736 391h1v1h-1zM737 392h1v1h-1zM738 392h1v1h-1zM739 393h1v1h-1zM740 394h1v1h-1zM741 395h1v1h-1zM742 395h1v1h-1zM743 396h1v1h-1zM744 397h1v1h-1zM745 397h1v1h-1zM746 398h1v1h-1zM747 398h1v1h-1zM748 399h1v1h-1zM749 399h1v1h-1zM750 400h1v1h-1zM751 400h1v1h-1zM752 401h1v1h-1zM753 401h1v1h-1zM754 402h1v1h-1zM755 402h1v1h-1zM756 403h1v1h-1zM757 403h1v1h-1zM758 404h1v1h-1zM759 404h1v1h-1zM760 405h1v1h-1zM761 405h1v1h-1zM762 405h1v1h-1zM763 406h1v1h-1zM764 406h1v1h-1zM765 406h1v1h-1zM766 407h1v1h-1zM767 407h1v1h-1zM768 408h1v1h-1zM769 408h1v1h-1zM770 408h1v1h-1zM771 409h1v1h-1zM772 409h1v1h-1zM773 409h1v1h-1zM774 409h1v1h-1zM775 409h1v1h-1zM776 409h1v1h-1zM777 409h1v1h-1zM778 409h1v1h-1zM779 410h1v1h-1zM780 410h1v1h-1zM781 410h1v1h-1zM782 410h1v1h-1zM783 410h1v1h-1zM784 410h1v1h-1zM785 410h1v1h-1zM786 410h1v1h-1zM787 409h1v1h-1zM788 409h1v1h-1zM789 409h1v1h-1zM790 409h1v1h-1zM791 408h1v1h-1zM792 408h1v1h-1zM793 408h1v1h-1zM794 408h1v1h-1zM795 407h1v1h-1zM796 407h1v1h-1zM797 407h1v1h-1zM798 407h1v1h-1zM799 406h1v1h-1zM800 406h1v1h-1zM801 406h1v1h-1zM802 406h1v1h-1zM803 405h1v1h-1zM804 405h1v1h-1zM805 405h1v1h-1zM806 405h1v1h-1zM807 405h1v1h-1zM808 405h1v1h-1zM809 405h1v1h-1zM810 405h1v1h-1zM811 404h1v1h-1zM812 404h1v1h-1zM813 404h1v1h-1zM814 404h1v1h-1zM815 404h1v1h-1zM816 404h1v1h-1zM817 404h1v1h-1zM818 404h1v1h-1zM819 403h1v1h-1zM820 403h1v1h-1zM821 403h1v1h-1zM822 403h1v1h-1zM823 402h1v1h-1zM824 402h1v1h-1zM825 402h1v1h-1zM826 402h1v1h-1zM827 401h1v1h-1zM828 401h1v1h-1zM829 401h1v1h-1zM830 401h1v1h-1zM831 400h1v1h-1zM832 400h1v1h-1zM833 400h1v1h-1zM834 399h1v1h-1zM835 399h1v1h-1zM836 398h1v1h-1zM837 398h1v1h-1zM838 398h1v1h-1zM839 397h1v1h-1zM840 397h1v1h-1zM841 397h1v1h-1zM842 397h1v1h-1zM843 396h1v1h-1zM844 396h1v1h-1zM845 396h1v1h-1zM846 395h1v1h-1zM847 395h1v1h-1zM848 394h1v1h-1zM849 394h1v1h-1zM850 393h1v1h-1zM851 393h1v1h-1zM852 392h1v1h-1zM853 391h1v1h-1zM854 391h1v1h-1zM855 390h1v1h-1zM856 389h1v1h-1zM857 389h1v1h-1zM858 388h1v1h-1zM859 388h1v1h-1zM860 387h1v1h-1zM861 386h1v1h-1zM862 386h1v1h-1zM863 385h1v1h-1zM864 384h1v1h-1zM865 384h1v1h-1zM866 383h1v1h-1zM867 383h1v1h-1zM868 382h1v1h-1zM869 381h1v1h-1zM870 381h1v1h-1zM871 380h1v1h-1zM872 379h1v1h-1zM873 379h1v1h-1zM874 378h1v1h-1zM875 378h1v1h-1zM876 377h1v1h-1zM877 376h1v1h-1zM878 376h1v1h-1zM879 375h1v1h-1zM880 374h1v1h-1zM881 374h1v1h-1zM882 373h1v1h-1zM883 373h1v1h-1zM884 372h1v1h-1zM885 372h1v1h-1zM886 371h1v1h-1zM887 371h1v1h-1zM888 370h1v1h-1zM889 370h1v1h-1zM890 369h1v1h-1zM891 369h1v1h-1zM892 368h1v1h-1zM893 368h1v1h-1zM894 367h1v1h-1zM895 367h1v1h-1zM896 366h1v1h-1zM897 366h1v1h-1zM898 365h1v1h-1zM899 365h1v1h-1zM900 364h1v1h-1zM901 363h1v1h-1zM902 363h1v1h-1zM903 362h1v1h-1zM904 361h1v1h-1zM905 361h1v1h-1zM906 360h1v1h-1zM907 360h1v1h-1zM908 359h1v1h-1zM909 358h1v1h-1zM910 358h1v1h-1zM911 357h1v1h-1zM912 356h1v1h-1zM913 356h1v1h-1zM914 355h1v1h-1zM915 355h1v1h-1zM916 354h1v1h-1zM917 354h1v1h-1zM918 354h1v1h-1zM919 353h1v1h-1zM920 353h1v1h-1zM921 353h1v1h-1zM922 353h1v1h-1zM923 352h1v1h-1z" fill="#ffff00"/><path d="M4 140h1v1h-1zM5 140h1v1h-1zM6 141h1v1h-1zM7 141h1v1h-1zM8 142h1v1h-1zM9 143h1v1h-1zM10 144h1v1h-1zM11 145h1v1h-1zM12 146h1v1h-1zM13 147h1v2h-1zM14 149h1v1h-1zM15 150h1v2h-1zM16 152h1v1h-1zM17 153h1v1h-1zM18 153h1v1h-1zM19 154h1v1h-1zM20 155h1v1h-1zM21 156h1v1h-1zM22 157h1v1h-1zM23 158h1v1h-1zM24 159h1v1h-1zM25 160h1v2h-1zM26 162h1v1h-1zM27 163h1v2h-1zM28 165h1v2h-1zM29 167h1v2h-1zM30 169h1v2h-1zM31 171h1v2h-1zM32 173h1v2h-1zM33 175h1v2h-1zM34 177h1v2h-1zM35 179h1v2h-1zM36 181h1v2h-1zM37 183h1v2h-1zM38 185h1v2h-1zM39 187h1v2h-1zM40 189h1v3h-1zM41 192h1v2h-1zM42 194h1v2h-1zM43 196h1v2h-1zM44 198h1v2h-1zM45 200h1v2h-1zM46 202h1v3h-1zM47 205h1v2h-1zM48 207h1v3h-1zM49 210h1v2h-1zM50 212h1v3h-1zM51 215h1v2h-1zM52 217h1v3h-1zM53 220h1v2h-1zM54 222h1v2h-1zM55 224h1v2h-1zM56 226h1v1h-1zM57 227h1v1h-1zM58 228h1v2h-1zM59 230h1v1h-1zM60 231h1v1h-1zM61 232h1v1h-1zM62 233h1v2h-1zM63 235h1v1h-1zM64 236h1v1h-1zM65 236h1v1h-1zM66 236h1v1h-1zM67 237h1v1h-1zM68 237h1v1h-1zM69 237h1v1h-1zM70 238h1v1h-1zM71 238h1v1h-1zM72 239h1v1h-1zM73 239h1v1h-1zM74 239h1v1h-1zM75 240h1v1h-1zM76 240h1v1h-1zM77 241h1v1h-1zM78 241h1v1h-1zM79 242h1v1h-1zM80 243h1v1h-1zM81 244h1v1h-1zM82 244h1v1h-1zM83 245h1v1h-1zM84 246h1v1h-1zM85 246h1v1h-1zM86 247h1v1h-1zM87 247h1v1h-1zM88 248h1v1h-1zM89 249h1v1h-1zM90 249h1v1h-1zM91 250h1v1h-1zM92 251h1v1h-1zM93 252h1v1h-1zM94 252h1v1h-1zM95 253h1v1h-1zM96 254h1v1h-1zM97 254h1v1h-1zM98 255h1v1h-1zM99 255h1v1h-1zM100 256h1v1h-1zM101 256h1v1h-1zM102 256h1v1h-1zM103 256h1v1h-1zM104 256h1v1h-1zM105 257h1v1h-1zM106 258h1v1h-1zM107 259h1v1h-1zM108 260h1v1h-1zM109 261h1v1h-1zM110 262h1v1h-1zM111 263h1v1h-1zM112 264h1v1h-1zM113 265h1v1h-1zM114 266h1v1h-1zM115 267h1v1h-1zM116 268h1v1h-1zM117 268h1v1h-1zM118 269h1v1h-1zM119 269h1v1h-1zM120 270h1v1h-1zM121 271h1v1h-1zM122 272h1v2h-1zM123 274h1v1h-1zM124 275h1v1h-1zM125 276h1v1h-1zM126 276h1v1h-1zM127 277h1v1h-1zM128 278h1v1h-1zM129 278h1v1h-1zM130 279h1v1h-1zM131 279h1v1h-1zM132 280h1v1h-1zM133 280h1v1h-1zM134 281h1v1h-1zM135 281h1v1h-1zM136 282h1v1h-1zM137 282h1v1h-1zM138 283h1v1h-1zM139 283h1v1h-1zM140 284h1v1h-1zM141 285h1v1h-1zM142 286h1v1h-1zM143 287h1v1h-1zM144 288h1v1h-1zM145 289h1v1h-1zM146 290h1v1h-1zM147 291h1v1h-1zM148 292h1v1h-1zM149 293h1v1h-1zM150 294h1v1h-1zM151 295h1v1h-1zM152 296h1v1h-1zM153 296h1v1h-1zM154 297h1v1h-1zM155 297h1v1h-1zM156 298h1v1h-1zM157 298h1v1h-1zM158 298h1v1h-1zM159 299h1v1h-1zM160 299h1v1h-1zM161 299h1v1h-1zM162 299h1v1h-1zM163 298h1v1h-1zM164 298h1v1h-1zM165 298h1v1h-1zM166 297h1v1h-1zM167 297h1v1h-1zM168 296h1v1h-1zM169 296h1v1h-1zM170 296h1v1h-1zM171 295h1v1h-1zM172 295h1v1h-1zM173 295h1v1h-1zM174 295h1v1h-1zM175 295h1v1h-1zM176 295h1v1h-1zM177 295h1v1h-1zM178 295h1v1h-1zM179 296h1v1h-1zM180 296h1v1h-1zM181 296h1v1h-1zM182 296h1v1h-1zM183 296h1v1h-1zM184 296h1v1h-1zM185 296h1v1h-1zM186 297h1v1h-1zM187 297h1v1h-1zM188 298h1v1h-1zM189 298h1v1h-1zM190 299h1v1h-1zM191 299h1v1h-1zM192 300h1v1h-1zM193 301h1v1h-1zM194 301h1v1h-1zM195 302h1v1h-1zM196 303h1v1h-1zM197 303h1v1h-1zM198 304h1v1h-1zM199 304h1v1h-1zM200 305h1v1h-1zM201 305h1v1h-1zM202 305h1v1h-1zM203 305h1v1h-1zM204 305h1v1h-1zM205 306h1v1h-1zM206 307h1v2h-1zM207 309h1v1h-1zM208 310h1v1h-1zM209 311h1v1h-1zM210 312h1v1h-1zM211 313h1v1h-1zM212 314h1v1h-1zM213 315h1v2h-1zM214 317h1v1h-1zM215 318h1v2h-1zM216 320h1v1h-1zM217 321h1v1h-1zM218 322h1v2h-1zM219 324h1v1h-1zM220 325h1v1h-1zM221 326h1v2h-1zM222 328h1v1h-1zM223 329h1v2h-1zM224 331h1v1h-1zM225 332h1v1h-1zM226 333h1v1h-1zM227 334h1v1h-1zM228 335h1v1h-1zM229 336h1v1h-1zM230 337h1v1h-1zM231 338h1v1h-1zM232 339h1v1h-1zM233 340h1v1h-1zM234 340h1v1h-1zM235 341h1v1h-1zM236 342h1v1h-1zM237 343h1v1h-1zM238 344h1v2h-1zM239 346h1v1h-1zM240 347h1v1h-1zM241 348h1v1h-1zM242 349h1v1h-1zM243 350h1v1h-1zM244 351h1v1h-1zM245 351h1v1h-1zM246 352h1v1h-1zM247 352h1v1h-1zM248 353h1v1h-1zM249 353h1v1h-1zM250 353h1v1h-1zM251 354h1v1h-1zM252 354h1v1h-1zM253 354h1v1h-1zM254 354h1v1h-1zM255 355h1v1h-1zM256 355h1v1h-1zM257 355h1v1h-1zM258 355h1v1h-1zM259 356h1v1h-1zM260 356h1v1h-1zM261 356h1v1h-1zM262 355h1v1h-1zM263 355h1v1h-1zM264 354h1v1h-1zM265 354h1v1h-1zM266 353h1v1h-1zM267 353h1v1h-1zM268 352h1v1h-1zM269 352h1v1h-1zM270 351h1v1h-1zM271 351h1v1h-1zM272 350h1v1h-1zM273 349h1v1h-1zM274 349h1v1h-1zM275 348h1v1h-1zM276 347h1v1h-1zM277 347h1v1h-1zM278 347h1v1h-1zM279 346h1v1h-1zM280 346h1v1h-1zM281 346h1v1h-1zM282 346h1v1h-1zM283 345h1v1h-1zM284 345h1v1h-1zM285 345h1v1h-1zM286 345h1v1h-1zM287 345h1v1h-1zM288 345h1v1h-1zM289 345h1v1h-1zM290 345h1v1h-1zM291 344h1v1h-1zM292 344h1v1h-1zM293 344h1v1h-1zM294 344h1v1h-1zM295 344h1v1h-1zM296 344h1v1h-1zM297 345h1v1h-1zM298 345h1v1h-1zM299 346h1v1h-1zM300 347h1v1h-1zM301 347h1v1h-1zM302 347h1v1h-1zM303 347h1v1h-1zM304 347h1v1h-1zM305 347h1v1h-1zM306 347h1v1h-1zM307 348h1v1h-1zM308 348h1v1h-1zM309 348h1v1h-1zM310 349h1v1h-1zM311 349h1v1h-1zM312 350h1v1h-1zM313 350h1v1h-1zM314 350h1v1h-1zM315 351h1v1h-1zM316 351h1v1h-1zM317 351h1v1h-1zM318 351h1v1h-1zM319 351h1v1h-1zM320 351h1v1h-1zM321 351h1v1h-1zM322 351h1v1h-1zM323 351h1v1h-1zM324 351h1v1h-1zM325 352h1v1h-1zM326 353h1v1h-1zM327 354h1v1h-1zM328 355h1v1h-1zM329 356h1v1h-1zM330 357h1v2h-1zM331 359h1v1h-1zM332 360h1v1h-1zM333 361h1v1h-1zM334 362h1v1h-1zM335 363h1v1h-1zM336 364h1v1h-1zM337 365h1v1h-1zM338 366h1v2h-1zM339 368h1v1h-1zM340 369h1v1h-1zM341 370h1v1h-1zM342 371h1v1h-1zM343 372h1v1h-1zM344 373h1v1h-1zM345 374h1v1h-1zM346 375h1v1h-1zM347 376h1v1h-1zM348 377h1v1h-1zM349 378h1v1h-1zM350 379h1v1h-1zM351 380h1v1h-1zM352 381h1v1h-1zM353 381h1v1h-1zM354 382h1v1h-1zM355 382h1v1h-1zM356 383h1v1h-1zM357 383h1v1h-1zM358 383h1v1h-1zM359 384h1v1h-1zM360 384h1v1h-1zM361 384h1v1h-1zM362 384h1v1h-1zM363 385h1v1h-1zM364 385h1v1h-1zM365 385h1v1h-1zM366 385h1v1h-1zM367 385h1v1h-1zM368 385h1v1h-1zM369 385h1v1h-1zM370 385h1v1h-1zM371 386h1v1h-1zM372 386h1v1h-1zM373 386h1v1h-1zM374 386h1v1h-1zM375 386h1v1h-1zM376 386h1v1h-1zM377 386h1v1h-1zM378 386h1v1h-1zM379 385h1v1h-1zM380 385h1v1h-1zM381 385h1v1h-1zM382 384h1v1h-1zM383 384h1v1h-1zM384 383h1v1h-1zM385 383h1v1h-1zM386 382h1v1h-1zM387 382h1v1h-1zM388 381h1v1h-1zM389 380h1v1h-1zM390 379h1v1h-1zM391 378h1v1h-1zM392 377h1v1h-1zM393 376h1v1h-1zM394 375h1v1h-1zM395 374h1v1h-1zM396 373h1v1h-1zM397 372h1v1h-1zM398 371h1v1h-1zM399 370h1v1h-1zM400 369h1v1h-1zM401 368h1v1h-1zM402 367h1v1h-1zM403 366h1v1h-1zM404 365h1v1h-1zM405 364h1v1h-1zM406 363h1v1h-1zM407 362h1v1h-1zM408 361h1v1h-1zM409 360h1v1h-1zM410 359h1v1h-1zM411 358h1v1h-1zM412 357h1v1h-1zM413 355h1v2h-1zM414 353h1v2h-1zM415 351h1v2h-1zM416 350h1v1h-1zM417 349h1v1h-1zM418 349h1v1h-1zM419 348h1v1h-1zM420 347h1v1h-1zM421 346h1v1h-1zM422 344h1v2h-1zM423 343h1v1h-1zM424 342h1v1h-1zM425 341h1v1h-1zM426 339h1v2h-1zM427 338h1v1h-1zM428 337h1v1h-1zM429 337h1v1h-1zM430 336h1v1h-1zM431 336h1v1h-1zM432 335h1v1h-1zM433 335h1v1h-1zM434 334h1v1h-1zM435 334h1v1h-1zM436 333h1v1h-1zM437 332h1v1h-1zM438 332h1v1h-1zM439 331h1v1h-1zM440 330h1v1h-1zM441 329h1v1h-1zM442 328h1v1h-1zM443 327h1v1h-1zM444 326h1v1h-1zM445 326h1v1h-1zM446 326h1v1h-1zM447 325h1v1h-1zM448 325h1v1h-1zM449 325h1v1h-1zM450 325h1v1h-1zM451 324h1v1h-1zM452 324h1v1h-1zM453 323h1v1h-1zM454 323h1v1h-1zM455 322h1v1h-1zM456 321h1v1h-1zM457 320h1v1h-1zM458 320h1v1h-1zM459 319h1v1h-1zM460 318h1v1h-1zM461 318h1v1h-1zM462 317h1v1h-1zM463 317h1v1h-1zM464 316h1v1h-1zM465 316h1v1h-1zM466 316h1v1h-1zM467 315h1v1h-1zM468 315h1v1h-1zM469 315h1v1h-1zM470 315h1v1h-1zM471 314h1v1h-1zM472 314h1v1h-1zM473 314h1v1h-1zM474 314h1v1h-1zM475 314h1v1h-1zM476 314h1v1h-1zM477 314h1v1h-1zM478 315h1v1h-1zM479 315h1v1h-1zM480 316h1v1h-1zM481 316h1v1h-1zM482 315h1v1h-1zM483 315h1v1h-1zM484 314h1v1h-1zM485 314h1v1h-1zM486 313h1v1h-1zM487 313h1v1h-1zM488 312h1v1h-1zM489 311h1v1h-1zM490 310h1v1h-1zM491 309h1v1h-1zM492 308h1v1h-1zM493 307h1v1h-1zM494 305h1v2h-1zM495 304h1v1h-1zM496 303h1v1h-1zM497 301h1v2h-1zM498 300h1v1h-1zM499 298h1v2h-1zM500 297h1v1h-1zM501 296h1v1h-1zM502 294h1v2h-1zM503 293h1v1h-1zM504 292h1v1h-1zM505 291h1v1h-1zM506 290h1v1h-1zM507 289h1v1h-1zM508 288h1v1h-1zM509 287h1v1h-1zM510 285h1v2h-1zM511 284h1v1h-1zM512 283h1v1h-1zM513 282h1v1h-1zM514 281h1v1h-1zM515 280h1v1h-1zM516 279h1v1h-1zM517 278h1v1h-1zM518 277h1v1h-1zM519 276h1v1h-1zM520 275h1v1h-1zM521 275h1v1h-1zM522 274h1v1h-1zM523 274h1v1h-1zM524 273h1v1h-1zM525 272h1v1h-1zM526 272h1v1h-1zM527 271h1v1h-1zM528 270h1v1h-1zM529 269h1v1h-1zM530 268h1v1h-1zM531 267h1v1h-1zM532 266h1v1h-1zM533 266h1v1h-1zM534 265h1v1h-1zM535 265h1v1h-1zM536 264h1v1h-1zM537 264h1v1h-1zM538 264h1v1h-1zM539 264h1v1h-1zM540 264h1v1h-1zM541 264h1v1h-1zM542 264h1v1h-1zM543 263h1v1h-1zM544 263h1v1h-1zM545 263h1v1h-1zM546 263h1v1h-1zM547 263h1v1h-1zM548 263h1v1h-1zM549 263h1v1h-1zM550 264h1v1h-1zM551 264h1v1h-1zM552 265h1v1h-1zM553 266h1v1h-1zM554 267h1v1h-1zM555 268h1v1h-1zM556 269h1v1h-1zM557 270h1v1h-1zM558 270h1v1h-1zM559 271h1v1h-1zM560 272h1v1h-1zM561 273h1v1h-1zM562 274h1v1h-1zM563 275h1v1h-1zM564 276h1v1h-1zM565 277h1v1h-1zM566 278h1v1h-1zM567 279h1v1h-1zM568 280h1v1h-1zM569 281h1v1h-1zM570 282h1v2h-1zM571 284h1v1h-1zM572 285h1v1h-1zM573 286h1v1h-1zM574 287h1v2h-1zM575 289h1v1h-1zM576 290h1v1h-1zM577 291h1v1h-1zM578 292h1v1h-1zM579 293h1v1h-1zM580 294h1v1h-1zM581 295h1v1h-1zM582 296h1v1h-1zM583 297h1v1h-1zM584 298h1v1h-1zM585 299h1v1h-1zM586 300h1v2h-1zM587 302h1v1h-1zM588 303h1v1h-1zM589 304h1v1h-1zM590 305h1v2h-1zM591 307h1v1h-1zM592 308h1v1h-1zM593 309h1v2h-1zM594 311h1v1h-1zM595 312h1v2h-1zM596 314h1v1h-1zM597 315h1v2h-1zM598 317h1v1h-1zM599 318h1v2h-1zM600 320h1v1h-1zM601 321h1v1h-1zM602 322h1v2h-1zM603 324h1v1h-1zM604 325h1v1h-1zM605 326h1v1h-1zM606 327h1v1h-1zM607 328h1v1h-1zM608 329h1v1h-1zM609 330h1v1h-1zM610 331h1v1h-1zM611 332h1v1h-1zM612 333h1v1h-1zM613 334h1v1h-1zM614 335h1v2h-1zM615 337h1v1h-1zM616 338h1v1h-1zM617 338h1v1h-1zM618 338h1v1h-1zM619 339h1v1h-1zM620 339h1v1h-1zM621 340h1v1h-1zM622 340h1v1h-1zM623 341h1v1h-1zM624 342h1v1h-1zM625 343h1v1h-1zM626 343h1v1h-1zM627 344h1v1h-1zM628 345h1v1h-1zM629 346h1v1h-1zM630 347h1v2h-1zM631 349h1v1h-1zM632 350h1v1h-1zM633 351h1v1h-1zM634 352h1v2h-1zM635 354h1v1h-1zM636 355h1v1h-1zM637 356h1v1h-1zM638 357h1v2h-1zM639 359h1v1h-1zM640 360h1v1h-1zM641 361h1v1h-1zM642 362h1v2h-1zM643 364h1v1h-1zM644 365h1v1h-1zM645 365h1v1h-1zM646 365h1v1h-1zM647 366h1v1h-1zM648 366h1v1h-1zM649 366h1v1h-1zM650 367h1v1h-1zM651 367h1v1h-1zM652 368h1v1h-1zM653 368h1v1h-1zM654 369h1v1h-1zM655 369h1v1h-1zM656 370h1v1h-1zM657 370h1v1h-1zM658 371h1v1h-1zM659 371h1v1h-1zM660 372h1v1h-1zM661 372h1v1h-1zM662 373h1v1h-1zM663 373h1v1h-1zM664 374h1v1h-1zM665 375h1v1h-1zM666 376h1v1h-1zM667 377h1v1h-1zM668 378h1v1h-1zM669 379h1v1h-1zM670 379h1v1h-1zM671 380h1v1h-1zM672 381h1v1h-1zM673 382h1v1h-1zM674 383h1v1h-1zM675 384h1v1h-1zM676 385h1v1h-1zM677 386h1v1h-1zM678 387h1v1h-1zM679 388h1v1h-1zM680 389h1v1h-1zM681 389h1v1h-1zM682 390h1v1h-1zM683 390h1v1h-1zM684 391h1v1h-1zM685 391h1v1h-1zM686 391h1v1h-1zM687 391h1v1h-1zM688 391h1v1h-1zM689 391h1v1h-1zM690 391h1v1h-1zM691 392h1v1h-1zM692 392h1v1h-1zM693 392h1v1h-1zM694 392h1v1h-1zM695 393h1v1h-1zM696 393h1v1h-1zM697 394h1v1h-1zM698 395h1v1h-1zM699 396h1v1h-1zM700 397h1v1h-1zM701 398h1v2h-1zM702 400h1v1h-1zM703 401h1v2h-1zM704 403h1v1h-1zM705 404h1v2h-1zM706 406h1v2h-1zM707 408h1v2h-1zM708 410h1v1h-1zM709 411h1v1h-1zM710 412h1v2h-1zM711 414h1v1h-1zM712 415h1v1h-1zM713 416h1v1h-1zM714 417h1v1h-1zM715 418h1v1h-1zM716 419h1v1h-1zM717 420h1v1h-1zM718 421h1v1h-1zM719 422h1v1h-1zM720 423h1v1h-1zM721 424h1v1h-1zM722 424h1v1h-1zM723 425h1v1h-1zM724 426h1v1h-1zM725 426h1v1h-1zM726 427h1v1h-1zM727 427h1v1h-1zM728 428h1v1h-1zM729 429h1v1h-1zM730 430h1v1h-1zM731 431h1v1h-1zM732 432h1v1h-1zM733 433h1v1h-1zM734 433h1v1h-1zM735 434h1v1h-1zM736 435h1v1h-1zM737 436h1v1h-1zM738 436h1v1h-1zM739 437h1v1h-1zM740 438h1v1h-1zM741 438h1v1h-1zM742 438h1v1h-1zM743 439h1v1h-1zM744 439h1v1h-1zM745 439h1v1h-1zM746 439h1v1h-1zM747 440h1v1h-1zM748 440h1v1h-1zM749 440h1v1h-1zM750 440h1v1h-1zM751 440h1v1h-1zM752 440h1v1h-1zM753 440h1v1h-1zM754 440h1v1h-1zM755 439h1v1h-1zM756 439h1v1h-1zM757 438h1v1h-1zM758 438h1v1h-1zM759 437h1v1h-1zM760 436h1v1h-1zM761 435h1v1h-1zM762 435h1v1h-1zM763 434h1v1h-1zM764 433h1v1h-1zM765 433h1v1h-1zM766 432h1v1h-1zM767 432h1v1h-1zM768 431h1v1h-1zM769 429h1v2h-1zM770 428h1v1h-1zM771 426h1v2h-1zM772 425h1v1h-1zM773 423h1v2h-1zM774 422h1v1h-1zM775 420h1v2h-1zM776 419h1v1h-1zM777 418h1v1h-1zM778 418h1v1h-1zM779 417h1v1h-1zM780 416h1v1h-1zM781 414h1v2h-1zM782 413h1v1h-1zM783 411h1v2h-1zM784 409h1v2h-1zM785 407h1v2h-1zM786 405h1v2h-1zM787 403h1v2h-1zM788 402h1v1h-1zM789 401h1v1h-1zM790 399h1v2h-1zM791 398h1v1h-1zM792 397h1v1h-1zM793 395h1v2h-1zM794 394h1v1h-1zM795 392h1v2h-1zM796 391h1v1h-1zM797 390h1v1h-1zM798 388h1v2h-1zM799 387h1v1h-1zM800 386h1v1h-1zM801 385h1v1h-1zM802 383h1v2h-1zM803 382h1v1h-1zM804 381h1v1h-1zM805 380h1v1h-1zM806 379h1v1h-1zM807 378h1v1h-1zM808 377h1v1h-1zM809 376h1v1h-1zM810 374h1v2h-1zM811 373h1v1h-1zM812 372h1v1h-1zM813 371h1v1h-1zM814 369h1v2h-1zM815 368h1v1h-1zM816 367h1v1h-1zM817 365h1v2h-1zM818 364h1v1h-1zM819 362h1v2h-1zM820 361h1v1h-1zM821 360h1v1h-1zM822 359h1v1h-1zM823 358h1v1h-1zM824 357h1v1h-1zM825 357h1v1h-1zM826 357h1v1h-1zM827 356h1v1h-1zM828 356h1v1h-1zM829 356h1v1h-1zM830 356h1v1h-1zM831 355h1v1h-1zM832 355h1v1h-1zM833 355h1v1h-1zM834 355h1v1h-1zM835 354h1v1h-1zM836 354h1v1h-1zM837 354h1v1h-1zM838 354h1v1h-1zM839 354h1v1h-1zM840 354h1v1h-1zM841 354h1v1h-1zM842 353h1v1h-1zM843 353h1v1h-1zM844 352h1v1h-1zM845 352h1v1h-1zM846 352h1v1h-1zM847 351h1v1h-1zM848 351h1v1h-1zM849 351h1v1h-1zM850 351h1v1h-1zM851 351h1v1h-1zM852 351h1v1h-1zM853 351h1v1h-1zM854 351h1v1h-1zM855 350h1v1h-1zM856 350h1v1h-1zM857 350h1v1h-1zM858 350h1v1h-1zM859 350h1v1h-1zM860 350h1v1h-1zM861 350h1v1h-1zM862 350h1v1h-1zM863 349h1v1h-1zM864 349h1v1h-1zM865 349h1v1h-1zM866 349h1v1h-1zM867 349h1v1h-1zM868 349h1v1h-1zM869 349h1v1h-1zM870 349h1v1h-1zM871 348h1v1h-1zM872 348h1v1h-1zM873 348h1v1h-1zM874 348h1v1h-1zM875 347h1v1h-1zM876 347h1v1h-1zM877 347h1v1h-1zM878 347h1v1h-1zM879 347h1v1h-1zM880 347h1v1h-1zM881 347h1v1h-1zM882 347h1v1h-1zM883 346h1v1h-1zM884 346h1v1h-1zM885 346h1v1h-1zM886 346h1v1h-1zM887 346h1v1h-1zM888 346h1v1h-1zM889 346h1v1h-1zM890 346h1v1h-1zM891 347h1v1h-1zM892 347h1v1h-1zM893 347h1v1h-1zM894 347h1v1h-1zM895 347h1v1h-1zM896 347h1v1h-1zM897 347h1v1h-1zM898 347h1v1h-1zM899 348h1v1h-1zM900 348h1v1h-1zM901 348h1v1h-1zM902 348h1v1h-1zM903 347h1v1h-1zM904 347h1v1h-1zM905 347h1v1h-1zM906 346h1v1h-1zM907 346h1v1h-1zM908 345h1v1h-1zM909 345h1v1h-1zM910 345h1v1h-1zM911 344h1v1h-1zM912 344h1v1h-1zM913 344h1v1h-1zM914 344h1v1h-1zM915 344h1v1h-1zM916 344h1v1h-1zM917 344h1v1h-1zM918 344h1v1h-1zM919 344h1v1h-1zM920 344h1v1h-1zM921 344h1v1h-1zM922 344h1v1h-1zM923 343h1v1h-1z" fill="#ff0000"/><path d="M4 129h1v1h-1zM5 130h1v2h-1zM6 132h1v1h-1zM7 133h1v2h-1zM8 135h1v1h-1zM9 136h1v2h-1zM10 138h1v2h-1zM11 140h1v2h-1zM12 142h1v1h-1zM13 143h1v2h-1zM14 145h1v1h-1zM15 146h1v2h-1zM16 148h1v1h-1zM17 149h1v1h-1zM18 150h1v2h-1zM19 152h1v1h-1zM20 153h1v1h-1zM21 154h1v1h-1zM22 155h1v1h-1zM23 156h1v1h-1zM24 157h1v1h-1zM25 158h1v1h-1zM26 159h1v1h-1zM27 160h1v1h-1zM28 161h1v1h-1zM29 162h1v1h-1zM30 162h1v1h-1zM31 163h1v1h-1zM32 164h1v1h-1zM33 164h1v1h-1zM34 165h1v1h-1zM35 165h1v1h-1zM36 166h1v1h-1zM37 167h1v1h-1zM38 167h1v1h-1zM39 168h1v1h-1zM40 169h1v1h-1zM41 170h1v1h-1zM42 171h1v1h-1zM43 172h1v1h-1zM44 173h1v1h-1zM45 174h1v2h-1zM46 176h1v1h-1zM47 177h1v2h-1zM48 179h1v1h-1zM49 180h1v1h-1zM50 181h1v2h-1zM51 183h1v1h-1zM52 184h1v1h-1zM53 185h1v1h-1zM54 186h1v2h-1zM55 188h1v1h-1zM56 189h1v2h-1zM57 191h1v2h-1zM58 193h1v2h-1zM59 195h1v2h-1zM60 197h1v2h-1zM61 199h1v2h-1zM62 201h1v2h-1zM63 203h1v2h-1zM64 205h1v2h-1zM65 207h1v2h-1zM66 209h1v1h-1zM67 210h1v2h-1zM68 212h1v1h-1zM69 213h1v1h-1zM70 214h1v2h-1zM71 216h1v1h-1zM72 217h1v1h-1zM73 218h1v1h-1zM74 219h1v2h-1zM75 221h1v1h-1zM76 222h1v1h-1zM77 223h1v2h-1zM78 225h1v1h-1zM79 226h1v2h-1zM80 228h1v1h-1zM81 229h1v2h-1zM82 231h1v2h-1zM83 233h1v2h-1zM84 235h1v1h-1zM85 236h1v1h-1zM86 236h1v1h-1zM87 237h1v1h-1zM88 238h1v1h-1zM89 238h1v1h-1zM90 239h1v1h-1zM91 239h1v1h-1zM92 240h1v1h-1zM93 240h1v1h-1zM94 240h1v1h-1zM95 241h1v1h-1zM96 241h1v1h-1zM97 241h1v1h-1zM98 242h1v1h-1zM99 242h1v1h-1zM100 243h1v1h-1zM101 244h1v1h-1zM102 245h1v1h-1zM103 246h1v1h-1zM104 247h1v1h-1zM105 248h1v1h-1zM106 249h1v2h-1zM107 251h1v1h-1zM108 252h1v1h-1zM109 253h1v1h-1zM110 254h1v2h-1zM111 256h1v1h-1zM112 257h1v1h-1zM113 258h1v1h-1zM114 259h1v1h-1zM115 260h1v1h-1zM116 261h1v1h-1zM117 262h1v1h-1zM118 263h1v1h-1zM119 264h1v1h-1zM120 265h1v1h-1zM121 266h1v1h-1zM122 266h1v1h-1zM123 267h1v1h-1zM124 268h1v1h-1zM125 268h1v1h-1zM126 269h1v1h-1zM127 269h1v1h-1zM128 270h1v1h-1zM129 270h1v1h-1zM130 270h1v1h-1zM131 271h1v1h-1zM132 271h1v1h-1zM133 271h1v1h-1zM134 271h1v1h-1zM135 272h1v1h-1zM136 272h1v1h-1zM137 272h1v1h-1zM138 273h1v1h-1zM139 273h1v1h-1zM140 274h1v1h-1zM141 274h1v1h-1zM142 275h1v1h-1zM143 275h1v1h-1zM144 276h1v1h-1zM145 276h1v1h-1zM146 277h1v1h-1zM147 277h1v1h-1zM148 278h1v1h-1zM149 279h1v1h-1zM150 279h1v1h-1zM151 280h1v1h-1zM152 281h1v1h-1zM153 282h1v1h-1zM154 282h1v1h-1zM155 283h1v1h-1zM156 284h1v1h-1zM157 285h1v1h-1zM158 285h1v1h-1zM159 286h1v1h-1zM160 287h1v1h-1zM161 287h1v1h-1zM162 287h1v1h-1zM163 288h1v1h-1zM164 288h1v1h-1zM165 288h1v1h-1zM166 288h1v1h-1zM167 289h1v1h-1zM168 289h1v1h-1zM169 289h1v1h-1zM170 290h1v1h-1zM171 290h1v1h-1zM172 291h1v1h-1zM173 292h1v1h-1zM174 292h1v1h-1zM175 293h1v1h-1zM176 294h1v1h-1zM177 294h1v1h-1zM178 295h1v1h-1zM179 295h1v1h-1zM180 296h1v1h-1zM181 296h1v1h-1zM182 296h1v1h-1zM183 296h1v1h-1zM184 296h1v1h-1zM185 296h1v1h-1zM186 297h1v1h-1zM187 297h1v1h-1zM188 298h1v1h-1zM189 298h1v1h-1zM190 298h1v1h-1zM191 299h1v1h-1zM192 299h1v1h-1zM193 299h1v1h-1zM194 299h1v1h-1zM195 299h1v1h-1zM196 299h1v1h-1zM197 299h1v1h-1zM198 299h1v1h-1zM199 299h1v1h-1zM200 299h1v1h-1zM201 299h1v1h-1zM202 300h1v1h-1zM203 300h1v1h-1zM204 301h1v1h-1zM205 302h1v1h-1zM206 302h1v1h-1zM207 303h1v1h-1zM208 304h1v1h-1zM209 305h1v1h-1zM210 306h1v2h-1zM211 308h1v1h-1zM212 309h1v1h-1zM213 310h1v1h-1zM214 311h1v2h-1zM215 313h1v1h-1zM216 314h1v1h-1zM217 315h1v1h-1zM218 315h1v1h-1zM219 316h1v1h-1zM220 317h1v1h-1zM221 318h1v1h-1zM222 319h1v1h-1zM223 320h1v1h-1zM224 321h1v1h-1zM225 321h1v1h-1zM226 321h1v1h-1zM227 322h1v1h-1zM228 322h1v1h-1zM229 323h1v1h-1zM230 323h1v1h-1zM231 324h1v1h-1zM232 325h1v1h-1zM233 325h1v1h-1zM234 326h1v1h-1zM235 326h1v1h-1zM236 327h1v1h-1zM237 328h1v1h-1zM238 328h1v1h-1zM239 329h1v1h-1zM240 330h1v1h-1zM241 331h1v1h-1zM242 331h1v1h-1zM243 332h1v1h-1zM244 333h1v1h-1zM245 333h1v1h-1zM246 334h1v1h-1zM247 334h1v1h-1zM248 335h1v1h-1zM249 336h1v1h-1zM250 336h1v1h-1zM251 337h1v1h-1zM252 338h1v1h-1zM253 338h1v1h-1zM254 339h1v1h-1zM255 339h1v1h-1zM256 340h1v1h-1zM257 341h1v1h-1zM258 341h1v1h-1zM259 342h1v1h-1zM260 343h1v1h-1zM261 343h1v1h-1zM262 343h1v1h-1zM263 344h1v1h-1zM264 344h1v1h-1zM265 345h1v1h-1zM266 346h1v1h-1zM267 347h1v1h-1zM268 348h1v1h-1zM269 348h1v1h-1zM270 348h1v1h-1zM271 348h1v1h-1zM272 348h1v1h-1zM273 348h1v1h-1zM274 348h1v1h-1zM275 349h1v1h-1zM276 349h1v1h-1zM277 349h1v1h-1zM278 349h1v1h-1zM279 349h1v1h-1zM280 349h1v1h-1zM281 349h1v1h-1zM282 349h1v1h-1zM283 350h1v1h-1zM284 350h1v1h-1zM285 350h1v1h-1zM286 350h1v1h-1zM287 350h1v1h-1zM288 350h1v1h-1zM289 350h1v1h-1zM290 350h1v1h-1zM291 350h1v1h-1zM292 350h1v1h-1zM293 350h1v1h-1zM294 350h1v1h-1zM295 350h1v1h-1zM296 350h1v1h-1zM297 350h1v1h-1zM298 350h1v1h-1zM299 350h1v1h-1zM300 350h1v1h-1zM301 350h1v1h-1zM302 350h1v1h-1zM303 350h1v1h-1zM304 350h1v1h-1zM305 350h1v1h-1zM306 350h1v1h-1zM307 350h1v1h-1zM308 350h1v1h-1zM309 350h1v1h-1zM310 350h1v1h-1zM311 350h1v1h-1zM312 350h1v1h-1zM313 350h1v1h-1zM314 350h1v1h-1zM315 350h1v1h-1zM316 350h1v1h-1zM317 350h1v1h-1zM318 350h1v1h-1zM319 350h1v1h-1zM320 350h1v1h-1zM321 350h1v1h-1zM322 350h1v1h-1zM323 350h1v1h-1zM324 350h1v1h-1zM325 350h1v1h-1zM326 350h1v1h-1zM327 351h1v1h-1zM328 351h1v1h-1zM329 351h1v1h-1zM330 352h1v1h-1zM331 352h1v1h-1zM332 353h1v1h-1zM333 354h1v1h-1zM334 355h1v1h-1zM335 356h1v1h-1zM336 357h1v1h-1zM337 358h1v1h-1zM338 359h1v1h-1zM339 360h1v1h-1zM340 361h1v1h-1zM341 361h1v1h-1zM342 361h1v1h-1zM343 362h1v1h-1zM344 362h1v1h-1zM345 363h1v1h-1zM346 363h1v1h-1zM347 364h1v1h-1zM348 365h1v1h-1zM349 366h1v1h-1zM350 366h1v1h-1zM351 367h1v1h-1zM352 368h1v1h-1zM353 369h1v1h-1zM354 369h1v1h-1zM355 370h1v1h-1zM356 371h1v1h-1zM357 371h1v1h-1zM358 372h1v1h-1zM359 372h1v1h-1zM360 373h1v1h-1zM361 373h1v1h-1zM362 373h1v1h-1zM363 374h1v1h-1zM364 374h1v1h-1zM365 374h1v1h-1zM366 375h1v1h-1zM367 375h1v1h-1zM368 376h1v1h-1zM369 376h1v1h-1zM370 376h1v1h-1zM371 377h1v1h-1zM372 377h1v1h-1zM373 377h1v1h-1zM374 377h1v1h-1zM375 377h1v1h-1zM376 377h1v1h-1zM377 377h1v1h-1zM378 377h1v1h-1zM379 376h1v1h-1zM380 376h1v1h-1zM381 376h1v1h-1zM382 376h1v1h-1zM383 376h1v1h-1zM384 376h1v1h-1zM385 376h1v1h-1zM386 376h1v1h-1zM387 377h1v1h-1zM388 377h1v1h-1zM389 377h1v1h-1zM390 377h1v1h-1zM391 376h1v1h-1zM392 376h1v1h-1zM393 376h1v1h-1zM394 376h1v1h-1zM395 375h1v1h-1zM396 375h1v1h-1zM397 375h1v1h-1zM398 375h1v1h-1zM399 376h1v1h-1zM400 376h1v1h-1zM401 376h1v1h-1zM402 375h1v1h-1zM403 375h1v1h-1zM404 374h1v1h-1zM405 374h1v1h-1zM406 374h1v1h-1zM407 374h1v1h-1zM408 374h1v1h-1zM409 373h1v1h-1zM410 373h1v1h-1zM411 372h1v1h-1zM412 371h1v1h-1zM413 370h1v1h-1zM414 370h1v1h-1zM415 369h1v1h-1zM416 368h1v1h-1zM417 367h1v1h-1zM418 365h1v2h-1zM419 364h1v1h-1zM420 363h1v1h-1zM421 361h1v2h-1zM422 360h1v1h-1zM423 358h1v2h-1zM424 357h1v1h-1zM425 356h1v1h-1zM426 355h1v1h-1zM427 354h1v1h-1zM428 353h1v1h-1zM429 352h1v1h-1zM430 350h1v2h-1zM431 349h1v1h-1zM432 348h1v1h-1zM433 347h1v1h-1zM434 346h1v1h-1zM435 345h1v1h-1zM436 344h1v1h-1zM437 343h1v1h-1zM438 342h1v1h-1zM439 341h1v1h-1zM440 340h1v1h-1zM441 340h1v1h-1zM442 339h1v1h-1zM443 339h1v1h-1zM444 338h1v1h-1zM445 338h1v1h-1zM446 337h1v1h-1zM447 337h1v1h-1zM448 336h1v1h-1zM449 336h1v1h-1zM450 335h1v1h-1zM451 335h1v1h-1zM452 334h1v1h-1zM453 334h1v1h-1zM454 333h1v1h-1zM455 333h1v1h-1zM456 332h1v1h-1zM457 332h1v1h-1zM458 331h1v1h-1zM459 331h1v1h-1zM460 330h1v1h-1zM461 330h1v1h-1zM462 329h1v1h-1zM463 329h1v1h-1zM464 328h1v1h-1zM465 328h1v1h-1zM466 327h1v1h-1zM467 327h1v1h-1zM468 326h1v1h-1zM469 326h1v1h-1zM470 325h1v1h-1zM471 325h1v1h-1zM472 324h1v1h-1zM473 324h1v1h-1zM474 323h1v1h-1zM475 323h1v1h-1zM476 322h1v1h-1zM477 321h1v1h-1zM478 321h1v1h-1zM479 320h1v1h-1zM480 319h1v1h-1zM481 318h1v1h-1zM482 317h1v1h-1zM483 316h1v1h-1zM484 315h1v1h-1zM485 314h1v1h-1zM486 314h1v1h-1zM487 313h1v1h-1zM488 312h1v1h-1zM489 311h1v1h-1zM490 311h1v1h-1zM491 310h1v1h-1zM492 309h1v1h-1zM493 308h1v1h-1zM494 307h1v1h-1zM495 306h1v1h-1zM496 305h1v1h-1zM497 304h1v1h-1zM498 304h1v1h-1zM499 303h1v1h-1zM500 302h1v1h-1zM501 302h1v1h-1zM502 301h1v1h-1zM503 301h1v1h-1zM504 300h1v1h-1zM505 300h1v1h-1zM506 299h1v1h-1zM507 299h1v1h-1zM508 298h1v1h-1zM509 297h1v1h-1zM510 297h1v1h-1zM511 296h1v1h-1zM512 295h1v1h-1zM513 295h1v1h-1zM514 294h1v1h-1zM515 294h1v1h-1zM516 293h1v1h-1zM517 292h1v1h-1zM518 292h1v1h-1zM519 291h1v1h-1zM520 290h1v1h-1zM521 289h1v1h-1zM522 289h1v1h-1zM523 288h1v1h-1zM524 287h1v1h-1zM525 287h1v1h-1zM526 287h1v1h-1zM527 286h1v1h-1zM528 286h1v1h-1zM529 285h1v1h-1zM530 285h1v1h-1zM531 284h1v1h-1zM532 283h1v1h-1zM533 282h1v1h-1zM534 282h1v1h-1zM535 281h1v1h-1zM536 280h1v1h-1zM537 280h1v1h-1zM538 279h1v1h-1zM539 279h1v1h-1zM540 278h1v1h-1zM541 277h1v1h-1zM542 277h1v1h-1zM543 276h1v1h-1zM544 275h1v1h-1zM545 275h1v1h-1zM546 274h1v1h-1zM547 274h1v1h-1zM548 273h1v1h-1zM549 273h1v1h-1zM550 273h1v1h-1zM551 272h1v1h-1zM552 272h1v1h-1zM553 272h1v1h-1zM554 272h1v1h-1zM555 272h1v1h-1zM556 272h1v1h-1zM557 272h1v1h-1zM558 272h1v1h-1zM559 272h1v1h-1zM560 272h1v1h-1zM561 272h1v1h-1zM562 272h1v1h-1zM563 272h1v1h-1zM564 272h1v1h-1zM565 272h1v1h-1zM566 272h1v1h-1zM567 272h1v1h-1zM568 272h1v1h-1zM569 273h1v1h-1zM570 273h1v1h-1zM571 274h1v1h-1zM572 275h1v1h-1zM573 275h1v1h-1zM574 276h1v1h-1zM575 276h1v1h-1zM576 277h1v1h-1zM577 278h1v1h-1zM578 279h1v1h-1zM579 280h1v1h-1zM580 281h1v1h-1zM581 282h1v1h-1zM582 283h1v1h-1zM583 284h1v1h-1zM584 285h1v1h-1zM585 286h1v1h-1zM586 287h1v2h-1zM587 289h1v1h-1zM588 290h1v1h-1zM589 291h1v1h-1zM590 292h1v1h-1zM591 293h1v1h-1zM592 294h1v1h-1zM593 295h1v1h-1zM594 296h1v1h-1zM595 297h1v1h-1zM596 298h1v1h-1zM597 299h1v1h-1zM598 300h1v2h-1zM599 302h1v1h-1zM600 303h1v1h-1zM601 304h1v1h-1zM602 305h1v1h-1zM603 306h1v1h-1zM604 307h1v1h-1zM605 308h1v1h-1zM606 309h1v1h-1zM607 310h1v1h-1zM608 311h1v1h-1zM609 312h1v1h-1zM610 313h1v1h-1zM611 314h1v1h-1zM612 315h1v1h-1zM613 316h1v1h-1zM614 317h1v1h-1zM615 318h1v1h-1zM616 319h1v1h-1zM617 320h1v1h-1zM618 320h1v1h-1zM619 321h1v1h-1zM620 322h1v1h-1zM621 323h1v1h-1zM622 324h1v1h-1zM623 325h1v1h-1zM624 326h1v1h-1zM625 327h1v1h-1zM626 328h1v1h-1zM627 329h1v1h-1zM628 330h1v1h-1zM629 331h1v2h-1zM630 333h1v1h-1zM631 334h1v2h-1zM632 336h1v1h-1zM633 337h1v2h-1zM634 339h1v1h-1zM635 340h1v2h-1zM636 342h1v1h-1zM637 343h1v1h-1zM638 344h1v2h-1zM639 346h1v1h-1zM640 347h1v1h-1zM641 348h1v1h-1zM642 349h1v2h-1zM643 351h1v1h-1zM644 352h1v1h-1zM645 353h1v1h-1zM646 353h1v1h-1zM647 354h1v1h-1zM648 355h1v1h-1zM649 356h1v1h-1zM650 356h1v1h-1zM651 357h1v1h-1zM652 358h1v1h-1zM653 359h1v1h-1zM654 359h1v1h-1zM655 360h1v1h-1zM656 361h1v1h-1zM657 361h1v1h-1zM658 362h1v1h-1zM659 362h1v1h-1zM660 363h1v1h-1zM661 363h1v1h-1zM662 364h1v1h-1zM663 364h1v1h-1zM664 365h1v1h-1zM665 366h1v1h-1zM666 367h1v1h-1zM667 368h1v1h-1zM668 369h1v1h-1zM669 369h1v1h-1zM670 369h1v1h-1zM671 370h1v1h-1zM672 370h1v1h-1zM673 371h1v1h-1zM674 371h1v1h-1zM675 372h1v1h-1zM676 373h1v1h-1zM677 373h1v1h-1zM678 374h1v1h-1zM679 374h1v1h-1zM680 375h1v1h-1zM681 376h1v1h-1zM682 376h1v1h-1zM683 377h1v1h-1zM684 378h1v1h-1zM685 378h1v1h-1zM686 378h1v1h-1zM687 379h1v1h-1zM688 379h1v1h-1zM689 380h1v1h-1zM690 380h1v1h-1zM691 381h1v1h-1zM692 382h1v1h-1zM693 383h1v1h-1zM694 384h1v1h-1zM695 385h1v1h-1zM696 386h1v1h-1zM697 387h1v1h-1zM698 388h1v1h-1zM699 389h1v1h-1zM700 390h1v1h-1zM701 391h1v2h-1zM702 393h1v1h-1zM703 394h1v2h-1zM704 396h1v1h-1zM705 397h1v2h-1zM706 399h1v2h-1zM707 401h1v2h-1zM708 403h1v1h-1zM709 404h1v1h-1zM710 405h1v2h-1zM711 407h1v1h-1zM712 408h1v1h-1zM713 408h1v1h-1zM714 408h1v1h-1zM715 409h1v1h-1zM716 409h1v1h-1zM717 409h1v1h-1zM718 409h1v1h-1zM719 410h1v1h-1zM720 410h1v1h-1zM721 410h1v1h-1zM722 411h1v1h-1zM723 411h1v1h-1zM724 412h1v1h-1zM725 412h1v1h-1zM726 412h1v1h-1zM727 413h1v1h-1zM728 413h1v1h-1zM729 414h1v1h-1zM730 414h1v1h-1zM731 415h1v1h-1zM732 416h1v1h-1zM733 417h1v1h-1zM734 417h1v1h-1zM735 418h1v1h-1zM736 419h1v1h-1zM737 419h1v1h-1zM738 420h1v1h-1zM739 420h1v1h-1zM740 421h1v1h-1zM741 422h1v1h-1zM742 422h1v1h-1zM743 423h1v1h-1zM744 424h1v1h-1zM745 425h1v1h-1zM746 425h1v1h-1zM747 426h1v1h-1zM748 427h1v1h-1zM749 427h1v1h-1zM750 427h1v1h-1zM751 427h1v1h-1zM752 427h1v1h-1zM753 427h1v1h-1zM754 428h1v1h-1zM755 428h1v1h-1zM756 429h1v1h-1zM757 429h1v1h-1zM758 430h1v1h-1zM759 430h1v1h-1zM760 431h1v1h-1zM761 431h1v1h-1zM762 432h1v1h-1zM763 432h1v1h-1zM764 433h1v1h-1zM765 433h1v1h-1zM766 434h1v1h-1zM767 434h1v1h-1zM768 435h1v1h-1zM769 435h1v1h-1zM770 434h1v1h-1zM771 434h1v1h-1zM772 433h1v1h-1zM773 432h1v1h-1zM774 432h1v1h-1zM775 431h1v1h-1zM776 430h1v1h-1zM777 429h1v1h-1zM778 429h1v1h-1zM779 428h1v1h-1zM780 427h1v1h-1zM781 426h1v1h-1zM782 424h1v2h-1zM783 423h1v1h-1zM784 422h1v1h-1zM785 420h1v2h-1zM786 419h1v1h-1zM787 417h1v2h-1zM788 416h1v1h-1zM789 415h1v1h-1zM790 413h1v2h-1zM791 412h1v1h-1zM792 411h1v1h-1zM793 410h1v1h-1zM794 408h1v2h-1zM795 407h1v1h-1zM796 406h1v1h-1zM797 405h1v1h-1zM798 404h1v1h-1zM799 403h1v1h-1zM800 402h1v1h-1zM801 401h1v1h-1zM802 400h1v1h-1zM803 399h1v1h-1zM804 398h1v1h-1zM805 397h1v1h-1zM806 397h1v1h-1zM807 396h1v1h-1zM808 395h1v1h-1zM809 394h1v1h-1zM810 394h1v1h-1zM811 393h1v1h-1zM812 392h1v1h-1zM813 391h1v1h-1zM814 390h1v1h-1zM815 389h1v1h-1zM816 388h1v1h-1zM817 387h1v1h-1zM818 386h1v1h-1zM819 385h1v1h-1zM820 384h1v1h-1zM821 383h1v1h-1zM822 383h1v1h-1zM823 382h1v1h-1zM824 381h1v1h-1zM825 380h1v1h-1zM826 379h1v1h-1zM827 378h1v1h-1zM828 377h1v1h-1zM829 376h1v1h-1zM830 375h1v1h-1zM831 374h1v1h-1zM832 373h1v1h-1zM833 372h1v1h-1zM834 371h1v1h-1zM835 370h1v1h-1zM836 369h1v1h-1zM837 368h1v1h-1zM838 367h1v1h-1zM839 366h1v1h-1zM840 365h1v1h-1zM841 364h1v1h-1zM842 363h1v1h-1zM843 362h1v1h-1zM844 361h1v1h-1zM845 360h1v1h-1zM846 359h1v1h-1zM847 358h1v1h-1zM848 357h1v1h-1zM849 356h1v1h-1zM850 355h1v1h-1zM851 354h1v1h-1zM852 353h1v1h-1zM853 353h1v1h-1zM854 353h1v1h-1zM855 352h1v1h-1zM856 352h1v1h-1zM857 352h1v1h-1zM858 352h1v1h-1zM859 351h1v1h-1zM860 351h1v1h-1zM861 351h1v1h-1zM862 351h1v1h-1zM863 351h1v1h-1zM864 351h1v1h-1zM865 351h1v1h-1zM866 351h1v1h-1zM867 351h1v1h-1zM868 351h1v1h-1zM869 351h1v1h-1zM870 351h1v1h-1zM871 352h1v1h-1zM872 352h1v1h-1zM873 352h1v1h-1zM874 352h1v1h-1zM875 352h1v1h-1zM876 352h1v1h-1zM877 352h1v1h-1zM878 352h1v1h-1zM879 351h1v1h-1zM880 351h1v1h-1zM881 351h1v1h-1zM882 351h1v1h-1zM883 350h1v1h-1zM884 350h1v1h-1zM885 350h1v1h-1zM886 350h1v1h-1zM887 350h1v1h-1zM888 350h1v1h-1zM889 350h1v1h-1zM890 350h1v1h-1zM891 349h1v1h-1zM892 349h1v1h-1zM893 349h1v1h-1zM894 349h1v1h-1zM895 348h1v1h-1zM896 348h1v1h-1zM897 348h1v1h-1zM898 348h1v1h-1zM899 347h1v1h-1zM900 347h1v1h-1zM901 347h1v1h-1zM902 347h1v1h-1zM903 346h1v1h-1zM904 346h1v1h-1zM905 346h1v1h-1zM906 346h1v1h-1zM907 345h1v1h-1zM908 345h1v1h-1zM909 345h1v1h-1zM910 344h1v1h-1zM911 344h1v1h-1zM912 343h1v1h-1zM913 343h1v1h-1zM914 343h1v1h-1zM915 343h1v1h-1zM916 343h1v1h-1zM917 343h1v1h-1zM918 343h1v1h-1zM919 344h1v1h-1zM920 344h1v1h-1zM921 344h1v1h-1zM922 344h1v1h-1zM923 345h1v1h-1z" fill="#0000cd"/><rect x="4" y="236" width="1162" height="2" fill="#ff0000"/><rect x="4" y="306" width="1162" height="2" fill="#ff0000"/><rect x="4" y="372" width="1162" height="2" fill="#00ff00"/><rect x="4" y="423" width="1162" height="2" fill="#0000ff"/><rect x="4" y="473" width="1162" height="2" fill="#0000ff"/><path d="M4 47h1v137h-1zM3 142h3v37h-3zM8 159h1v63h-1zM7 179h3v35h-3zM12 194h1v44h-1zM11 212h3v20h-3zM16 231h1v8h-1zM15 231h3v7h-3zM24 173h1v65h-1zM23 195h3v25h-3zM32 188h1v34h-1zM31 202h3v18h-3zM40 210h1v14h-1zM39 212h3v11h-3zM44 230h1v28h-1zM43 233h3v18h-3zM48 245h1v34h-1zM47 250h3v20h-3zM60 241h1v30h-1zM59 245h3v22h-3zM64 263h1v10h-1zM63 266h3v5h-3zM76 235h1v24h-1zM75 235h3v13h-3zM80 247h1v22h-1zM79 247h3v12h-3zM96 237h1v36h-1zM95 243h3v22h-3zM100 261h1v21h-1zM99 265h3v6h-3zM104 270h1v29h-1zM103 271h3v18h-3zM108 281h1v31h-1zM107 288h3v22h-3zM112 306h1v12h-1zM111 309h3v4h-3zM120 297h1v20h-1zM119 304h3v3h-3zM132 277h1v25h-1zM131 282h3v3h-3zM136 282h1v7h-1zM135 284h3v1h-3zM144 279h1v20h-1zM143 289h3v8h-3zM148 292h1v28h-1zM147 295h3v19h-3zM172 276h1v29h-1zM171 282h3v9h-3zM176 287h1v23h-1zM175 290h3v19h-3zM188 287h1v24h-1zM187 289h3v13h-3zM192 299h1v25h-1zM191 299h3v22h-3zM196 307h1v30h-1zM195 320h3v8h-3zM208 329h1v57h-1zM207 330h3v44h-3zM212 359h1v55h-1zM211 372h3v13h-3zM224 346h1v27h-1zM223 353h3v15h-3zM236 344h1v31h-1zM235 347h3v19h-3zM260 325h1v26h-1zM259 326h3v21h-3zM264 340h1v24h-1zM263 346h3v18h-3zM280 327h1v16h-1zM279 330h3v4h-3zM284 330h1v26h-1zM283 333h3v21h-3zM292 309h1v47h-1zM291 329h3v21h-3zM296 343h1v43h-1zM295 349h3v35h-3zM308 345h1v26h-1zM307 347h3v15h-3zM320 336h1v28h-1zM319 348h3v15h-3zM324 361h1v5h-1zM323 362h3v3h-3zM328 362h1v23h-1zM327 366h3v18h-3zM332 376h1v29h-1zM331 383h3v21h-3zM340 390h1v19h-1zM339 396h3v11h-3zM348 401h1v6h-1zM347 402h3v2h-3zM352 401h1v24h-1zM351 402h3v19h-3zM368 353h1v30h-1zM367 354h3v15h-3zM380 349h1v24h-1zM379 350h3v13h-3zM384 355h1v29h-1zM383 362h3v8h-3zM400 346h1v14h-1zM399 351h3v7h-3zM408 345h1v22h-1zM407 347h3v7h-3zM420 295h1v16h-1zM419 304h3v7h-3zM428 261h1v53h-1zM427 276h3v25h-3zM432 295h1v27h-1zM431 300h3v13h-3zM436 309h1v33h-1zM435 312h3v24h-3zM444 320h1v11h-1zM443 322h3v3h-3zM452 318h1v14h-1zM451 323h3v1h-3zM460 312h1v28h-1zM459 314h3v7h-3zM468 312h1v7h-1zM467 312h3v5h-3zM472 307h1v16h-1zM471 309h3v12h-3zM488 270h1v17h-1zM487 274h3v9h-3zM492 278h1v6h-1zM491 281h3v2h-3zM504 245h1v24h-1zM503 248h3v12h-3zM512 246h1v7h-1zM511 249h3v4h-3zM516 246h1v6h-1zM515 247h3v4h-3zM520 239h1v30h-1zM519 250h3v18h-3zM524 258h1v26h-1zM523 267h3v17h-3zM536 253h1v21h-1zM535 263h3v4h-3zM544 257h1v21h-1zM543 263h3v11h-3zM548 265h1v16h-1zM547 273h3v6h-3zM552 276h1v23h-1zM551 277h3v21h-3zM556 279h1v23h-1zM555 296h3v1h-3zM560 287h1v17h-1zM559 297h3v3h-3zM568 289h1v33h-1zM567 295h3v19h-3zM572 312h1v25h-1zM571 313h3v12h-3zM576 320h1v16h-1zM575 324h3v12h-3zM588 331h1v6h-1zM587 333h3v4h-3zM592 332h1v18h-1zM591 335h3v15h-3zM600 337h1v15h-1zM599 345h3v6h-3zM604 346h1v18h-1zM603 350h3v8h-3zM616 341h1v15h-1zM615 351h3v1h-3zM624 331h1v16h-1zM623 337h3v3h-3zM628 334h1v26h-1zM627 339h3v20h-3zM632 356h1v53h-1zM631 358h3v51h-3zM640 395h1v27h-1zM639 409h3v7h-3zM652 363h1v17h-1zM651 365h3v8h-3zM656 371h1v23h-1zM655 372h3v13h-3zM660 383h1v4h-1zM659 385h3v2h-3zM668 380h1v27h-1zM667 380h3v20h-3zM684 383h1v6h-1zM683 384h3v5h-3zM688 383h1v30h-1zM687 389h3v21h-3zM692 409h1v25h-1zM691 409h3v9h-3zM696 412h1v37h-1zM695 417h3v24h-3zM700 432h1v26h-1zM699 440h3v9h-3zM704 444h1v24h-1zM703 448h3v13h-3zM708 459h1v8h-1zM707 460h3v6h-3zM712 450h1v24h-1zM711 454h3v1h-3zM720 434h1v15h-1zM719 442h3v5h-3zM728 413h1v28h-1zM727 425h3v12h-3zM736 425h1v13h-1zM735 432h3v4h-3zM744 422h1v22h-1zM743 425h3v13h-3zM756 425h1v6h-1zM755 426h3v5h-3zM768 415h1v17h-1zM767 415h3v16h-3zM780 364h1v7h-1zM779 366h3v2h-3zM792 329h1v24h-1zM791 339h3v11h-3zM796 338h1v21h-1zM795 349h3v2h-3zM800 349h1v25h-1zM799 350h3v14h-3zM808 355h1v13h-1zM807 365h3v3h-3zM828 345h1v11h-1zM827 347h3v6h-3zM832 349h1v17h-1zM831 353h3v9h-3zM840 338h1v22h-1zM839 342h3v10h-3zM848 324h1v19h-1zM847 327h3v12h-3zM852 337h1v6h-1zM851 338h3v5h-3zM856 341h1v10h-1zM855 346h3v2h-3zM860 342h1v17h-1zM859 347h3v10h-3zM864 339h1v36h-1zM863 356h3v5h-3zM868 352h1v17h-1zM867 360h3v3h-3zM876 342h1v11h-1zM875 342h3v10h-3zM884 325h1v19h-1zM883 334h3v4h-3zM888 334h1v29h-1zM887 337h3v23h-3zM900 341h1v9h-1zM899 341h3v9h-3zM912 294h1v35h-1zM911 300h3v23h-3zM916 312h1v57h-1zM915 321h3v46h-3z" fill="#32cd32"/><path d="M20 182h1v95h-1zM19 195h3v46h-3zM28 194h1v48h-1zM27 202h3v18h-3zM36 195h1v27h-1zM35 212h3v8h-3zM52 256h1v36h-1zM51 267h3v3h-3zM56 232h1v40h-1zM55 246h3v22h-3zM68 237h1v43h-1zM67 238h3v30h-3zM72 226h1v30h-1zM71 236h3v3h-3zM84 243h1v18h-1zM83 255h3v4h-3zM88 249h1v8h-1zM87 252h3v4h-3zM92 235h1v24h-1zM91 244h3v8h-3zM116 288h1v26h-1zM115 304h3v5h-3zM124 299h1v29h-1zM123 299h3v9h-3zM128 278h1v22h-1zM127 282h3v18h-3zM140 289h1v18h-1zM139 290h3v4h-3zM152 303h1v22h-1zM151 306h3v9h-3zM156 291h1v23h-1zM155 306h3v4h-3zM160 300h1v9h-1zM159 300h3v8h-3zM164 270h1v31h-1zM163 287h3v12h-3zM168 275h1v20h-1zM167 282h3v6h-3zM180 303h1v7h-1zM179 305h3v4h-3zM184 288h1v22h-1zM183 289h3v19h-3zM200 320h1v11h-1zM199 324h3v4h-3zM216 368h1v33h-1zM215 372h3v13h-3zM220 353h1v36h-1zM219 353h3v20h-3zM228 348h1v24h-1zM227 357h3v11h-3zM232 334h1v23h-1zM231 347h3v4h-3zM240 356h1v29h-1zM239 360h3v6h-3zM244 347h1v21h-1zM243 351h3v11h-3zM248 339h1v25h-1zM247 341h3v13h-3zM252 338h1v9h-1zM251 339h3v4h-3zM256 316h1v28h-1zM255 327h3v11h-3zM268 356h1v14h-1zM267 357h3v7h-3zM272 325h1v38h-1zM271 330h3v29h-3zM276 325h1v10h-1zM275 327h3v4h-3zM288 323h1v35h-1zM287 330h3v24h-3zM300 368h1v16h-1zM299 374h3v10h-3zM304 345h1v37h-1zM303 347h3v23h-3zM312 356h1v14h-1zM311 361h3v1h-3zM316 346h1v23h-1zM315 348h3v14h-3zM336 393h1v20h-1zM335 397h3v7h-3zM344 387h1v22h-1zM343 402h3v5h-3zM356 395h1v30h-1zM355 402h3v19h-3zM360 374h1v30h-1zM359 379h3v24h-3zM364 353h1v43h-1zM363 353h3v27h-3zM372 360h1v13h-1zM371 362h3v7h-3zM376 348h1v28h-1zM375 350h3v25h-3zM388 362h1v19h-1zM387 362h3v8h-3zM392 316h1v49h-1zM391 346h3v18h-3zM396 334h1v14h-1zM395 338h3v9h-3zM404 340h1v22h-1zM403 347h3v11h-3zM412 343h1v14h-1zM411 349h3v5h-3zM416 304h1v48h-1zM415 304h3v46h-3zM424 274h1v45h-1zM423 276h3v40h-3zM440 309h1v38h-1zM439 322h3v14h-3zM448 308h1v23h-1zM447 323h3v3h-3zM456 314h1v12h-1zM455 314h3v10h-3zM464 302h1v21h-1zM463 312h3v8h-3zM476 308h1v14h-1zM475 310h3v11h-3zM480 295h1v19h-1zM479 299h3v12h-3zM484 273h1v29h-1zM483 273h3v27h-3zM496 239h1v45h-1zM495 249h3v32h-3zM500 239h1v17h-1zM499 249h3v1h-3zM508 235h1v31h-1zM507 249h3v12h-3zM528 271h1v15h-1zM527 276h3v8h-3zM532 261h1v20h-1zM531 263h3v15h-3zM540 262h1v5h-1zM539 264h3v3h-3zM564 293h1v8h-1zM563 296h3v4h-3zM580 331h1v14h-1zM579 333h3v3h-3zM584 324h1v15h-1zM583 333h3v1h-3zM596 338h1v17h-1zM595 345h3v5h-3zM608 351h1v13h-1zM607 355h3v3h-3zM612 350h1v7h-1zM611 351h3v5h-3zM620 333h1v24h-1zM619 337h3v15h-3zM636 400h1v10h-1zM635 406h3v3h-3zM644 392h1v24h-1zM643 396h3v20h-3zM648 364h1v37h-1zM647 365h3v32h-3zM664 375h1v12h-1zM663 380h3v5h-3zM672 386h1v22h-1zM671 395h3v5h-3zM676 382h1v19h-1zM675 391h3v5h-3zM680 384h1v14h-1zM679 384h3v8h-3zM716 439h1v27h-1zM715 442h3v13h-3zM724 424h1v24h-1zM723 425h3v22h-3zM732 433h1v4h-1zM731 434h3v3h-3zM740 422h1v20h-1zM739 424h3v12h-3zM748 430h1v18h-1zM747 436h3v3h-3zM752 425h1v21h-1zM751 426h3v11h-3zM760 405h1v25h-1zM759 417h3v13h-3zM764 414h1v11h-1zM763 415h3v3h-3zM772 366h1v70h-1zM771 366h3v66h-3zM776 359h1v25h-1zM775 366h3v1h-3zM784 344h1v30h-1zM783 351h3v19h-3zM788 337h1v26h-1zM787 339h3v13h-3zM804 361h1v5h-1zM803 363h3v1h-3zM812 352h1v16h-1zM811 358h3v9h-3zM816 356h1v12h-1zM815 358h3v1h-3zM820 349h1v14h-1zM819 351h3v9h-3zM824 333h1v23h-1zM823 348h3v4h-3zM836 339h1v28h-1zM835 342h3v20h-3zM844 324h1v32h-1zM843 327h3v24h-3zM872 341h1v25h-1zM871 342h3v21h-3zM880 328h1v21h-1zM879 334h3v14h-3zM892 346h1v19h-1zM891 347h3v13h-3zM896 337h1v19h-1zM895 341h3v8h-3zM904 329h1v20h-1zM903 342h3v7h-3zM908 298h1v51h-1zM907 300h3v43h-3zM920 351h1v23h-1zM919 361h3v6h-3zM924 356h1v9h-1zM923 358h3v4h-3z" fill="#ff0000"/><path d="M20 196h1v44h-1zM28 203h1v16h-1zM36 213h1v6h-1zM52 268h1v1h-1zM56 247h1v20h-1zM68 239h1v28h-1zM72 237h1v1h-1zM84 256h1v2h-1zM88 253h1v2h-1zM92 245h1v6h-1zM116 305h1v3h-1zM124 300h1v7h-1zM128 283h1v16h-1zM140 291h1v2h-1zM152 307h1v7h-1zM156 307h1v2h-1zM160 301h1v6h-1zM164 288h1v10h-1zM168 283h1v4h-1zM180 306h1v2h-1zM184 290h1v17h-1zM200 325h1v2h-1zM216 373h1v11h-1zM220 354h1v18h-1zM228 358h1v9h-1zM232 348h1v2h-1zM240 361h1v4h-1zM244 352h1v9h-1zM248 342h1v11h-1zM252 340h1v2h-1zM256 328h1v9h-1zM268 358h1v5h-1zM272 331h1v27h-1zM276 328h1v2h-1zM288 331h1v22h-1zM300 375h1v8h-1zM304 348h1v21h-1zM316 349h1v12h-1zM336 398h1v5h-1zM344 403h1v3h-1zM356 403h1v17h-1zM360 380h1v22h-1zM364 354h1v25h-1zM372 363h1v5h-1zM376 351h1v23h-1zM388 363h1v6h-1zM392 347h1v16h-1zM396 339h1v7h-1zM404 348h1v9h-1zM412 350h1v3h-1zM416 305h1v44h-1zM424 277h1v38h-1zM440 323h1v12h-1zM448 324h1v1h-1zM456 315h1v8h-1zM464 313h1v6h-1zM476 311h1v9h-1zM480 300h1v10h-1zM484 274h1v25h-1zM496 250h1v30h-1zM508 250h1v10h-1zM528 277h1v6h-1zM532 264h1v13h-1zM540 265h1v1h-1zM564 297h1v2h-1zM580 334h1v1h-1zM596 346h1v3h-1zM608 356h1v1h-1zM612 352h1v3h-1zM620 338h1v13h-1zM636 407h1v1h-1zM644 397h1v18h-1zM648 366h1v30h-1zM664 381h1v3h-1zM672 396h1v3h-1zM676 392h1v3h-1zM680 385h1v6h-1zM716 443h1v11h-1zM724 426h1v20h-1zM732 435h1v1h-1zM740 425h1v10h-1zM748 437h1v1h-1zM752 427h1v9h-1zM760 418h1v11h-1zM764 416h1v1h-1zM772 367h1v64h-1zM784 352h1v17h-1zM788 340h1v11h-1zM812 359h1v7h-1zM820 352h1v7h-1zM824 349h1v2h-1zM836 343h1v18h-1zM844 328h1v22h-1zM872 343h1v19h-1zM880 335h1v12h-1zM892 348h1v11h-1zM896 342h1v6h-1zM904 343h1v5h-1zM908 301h1v41h-1zM920 362h1v4h-1zM924 359h1v2h-1z" fill="#ff4500"/><path d="M203 321h3v1h-3z" fill="#000"/></g><rect x="1166" y="236" width="1" height="2" fill="#ff0000"/><rect x="1166" y="306" width="1" height="2" fill="#ff0000"/><rect x="1166" y="372" width="1" height="2" fill="#00ff00"/><rect x="1166" y="423" width="1" height="2" fill="#0000ff"/><rect x="1166" y="473" width="1" height="2" fill="#0000ff"/><rect x="3" y="234" width="6" height="6" fill="#ff0000"/><rect x="5" y="236" width="2" height="2" fill="#fff"/><rect x="1160" y="234" width="6" height="6" fill="#ff0000"/><rect x="1162" y="236" width="2" height="2" fill="#fff"/><rect x="3" y="304" width="6" height="6" fill="#ff0000"/><rect x="5" y="306" width="2" height="2" fill="#fff"/><rect x="1160" y="304" width="6" height="6" fill="#ff0000"/><rect x="1162" y="306" width="2" height="2" fill="#fff"/><rect x="3" y="370" width="6" height="6" fill="#00ff00"/><rect x="5" y="372" width="2" height="2" fill="#fff"/><rect x="1160" y="370" width="6" height="6" fill="#00ff00"/><rect x="1162" y="372" width="2" height="2" fill="#fff"/></svg>
<div class="a" style="left:1168px;top:231px;width:37px;height:11px;background:#ff0000;"></div>
<div class="t" style="left:1172.34px;top:232.53px;font-size:10px;line-height:10px;color:#fff;transform:scaleX(0.9128);-webkit-text-stroke:0.2px #fff;">6.58499</div>
<div class="a" style="left:1168px;top:301px;width:37px;height:11px;background:#ff0000;"></div>
<div class="t" style="left:1172.34px;top:302.53px;font-size:10px;line-height:10px;color:#fff;transform:scaleX(0.9136);-webkit-text-stroke:0.2px #fff;">6.51582</div>
<div class="a" style="left:1168px;top:353px;width:37px;height:11px;background:#000000;"></div>
<div class="t" style="left:1172.34px;top:354.53px;font-size:10px;line-height:10px;color:#fff;transform:scaleX(0.9119);-webkit-text-stroke:0.2px #fff;">6.46496</div>
<div class="a" style="left:1168px;top:367px;width:37px;height:11px;background:#00ff00;"></div>
<div class="t" style="left:1172.34px;top:368.53px;font-size:10px;line-height:10px;color:#fff;transform:scaleX(0.9128);-webkit-text-stroke:0.2px #fff;">6.45059</div>
<div class="a" style="left:1168px;top:418px;width:37px;height:11px;background:#0000ff;"></div>
<div class="t" style="left:1172.34px;top:419.53px;font-size:10px;line-height:10px;color:#fff;transform:scaleX(0.9128);-webkit-text-stroke:0.2px #fff;">6.40019</div>
<div class="a" style="left:1168px;top:468px;width:37px;height:11px;background:#0000ff;"></div>
<div class="t" style="left:1172.34px;top:469.53px;font-size:10px;line-height:10px;color:#fff;transform:scaleX(0.9118);-webkit-text-stroke:0.2px #fff;">6.35078</div>
<svg class="a" style="left:7px;top:30px;" width="8" height="6"><path d="M0 5 L3.5 1 L7 5 Z" fill="#000"/></svg>
<div class="t" style="left:19.26px;top:28.53px;font-size:10px;line-height:10px;color:#000;transform:scaleX(0.9553);-webkit-text-stroke:0.2px #000;">USDCNH,Daily</div>
<div class="t" style="left:90.83px;top:28.53px;font-size:10px;line-height:10px;color:#000;transform:scaleX(0.9250);-webkit-text-stroke:0.2px #000;">6.46262</div>
<div class="t" style="left:127.24px;top:28.53px;font-size:10px;line-height:10px;color:#000;transform:scaleX(0.9118);-webkit-text-stroke:0.2px #000;">6.46708</div>
<div class="t" style="left:163.44px;top:28.53px;font-size:10px;line-height:10px;color:#000;transform:scaleX(0.9078);-webkit-text-stroke:0.2px #000;">6.45950</div>
<div class="t" style="left:199.43px;top:28.53px;font-size:10px;line-height:10px;color:#000;transform:scaleX(0.9204);-webkit-text-stroke:0.2px #000;">6.46496</div>
<div class="t" style="left:8.42px;top:491.53px;font-size:10px;line-height:10px;color:#000;transform:scaleX(0.9467);-webkit-text-stroke:0.2px #000;">MACD(12,26,9)</div>
<div class="t" style="left:77.14px;top:491.53px;font-size:10px;line-height:10px;color:#000;transform:scaleX(0.9114);-webkit-text-stroke:0.2px #000;">0.003790</div>
<div class="t" style="left:118.14px;top:491.53px;font-size:10px;line-height:10px;color:#000;transform:scaleX(0.9218);-webkit-text-stroke:0.2px #000;">0.007125</div>
<div class="t" style="left:8.45px;top:577.53px;font-size:10px;line-height:10px;color:#000;transform:scaleX(0.9178);-webkit-text-stroke:0.2px #000;">RSI(14)</div>
<div class="t" style="left:43.29px;top:577.53px;font-size:10px;line-height:10px;color:#000;transform:scaleX(0.9310);-webkit-text-stroke:0.2px #000;">47.7929</div>
<div class="a" style="left:7px;top:44px;width:52px;height:25px;background:linear-gradient(#5656fa 0px,#3434e2 24px,#0000aa 57px);background-size:100% 57px;"></div>
<div class="a" style="left:174px;top:44px;width:52px;height:25px;background:linear-gradient(#5656fa 0px,#3434e2 24px,#0000aa 57px);background-size:100% 57px;"></div>
<div class="a" style="left:7px;top:68px;width:109px;height:33px;background:linear-gradient(#5656fa 0px,#3434e2 24px,#0000aa 57px);background-size:100% 57px;background-position:0 -24px;"></div>
<div class="a" style="left:118px;top:68px;width:108px;height:33px;background:linear-gradient(#5656fa 0px,#3434e2 24px,#0000aa 57px);background-size:100% 57px;background-position:0 -24px;"></div>
<div class="a" style="left:7px;top:44px;width:52px;height:1px;background:#3030d0;"></div>
<div class="a" style="left:174px;top:44px;width:52px;height:1px;background:#3030d0;"></div>
<div class="a" style="left:7px;top:44px;width:1px;height:57px;background:linear-gradient(#3030d0,#0000a0);"></div>
<div class="a" style="left:11px;top:67px;width:44px;height:1px;background:#1c1ca8;"></div>
<div class="a" style="left:11px;top:68px;width:44px;height:1px;background:#7878f0;"></div>
<div class="a" style="left:178px;top:67px;width:44px;height:1px;background:#1c1ca8;"></div>
<div class="a" style="left:178px;top:68px;width:44px;height:1px;background:#7878f0;"></div>
<div class="a" style="left:59px;top:44px;width:115px;height:24px;background:#fff;"></div>
<div class="a" style="left:61px;top:44px;width:110px;height:21px;background:#fff;border:1px solid #b4b4b4;"></div>
<div class="a" style="left:62px;top:45px;width:20px;height:21px;background:linear-gradient(#ececec,#c8c8c8);border-right:1px solid #b4b4b4;"></div>
<div class="a" style="left:151px;top:45px;width:20px;height:21px;background:linear-gradient(#ececec,#c8c8c8);border-left:1px solid #b4b4b4;"></div>
<svg class="a" style="left:68px;top:52px;" width="8" height="5"><path d="M0.5 0.5 L6.5 0.5 L3.5 4 Z" fill="#4a5cb8"/></svg>
<svg class="a" style="left:157px;top:52px;" width="8" height="5"><path d="M0.5 4 L6.5 4 L3.5 0.5 Z" fill="#4a5cb8"/></svg>
<div class="t" style="left:122.51px;top:49.24px;font-size:12px;line-height:12px;color:#000;transform:scaleX(1.0700);">3.00</div>
<div class="t" style="left:19.51px;top:50.42px;font-size:12.5px;line-height:12.5px;color:#fff;transform:scaleX(0.8548);">SELL</div>
<div class="t" style="left:186.75px;top:50.42px;font-size:12.5px;line-height:12.5px;color:#fff;transform:scaleX(0.9221);">BUY</div>
<div class="t" style="left:26.84px;top:87.26px;font-size:11.5px;line-height:11.5px;color:#fff;font-weight:bold;transform:scaleX(1.1000);">6.46</div>
<div class="t" style="left:136.84px;top:87.26px;font-size:11.5px;line-height:11.5px;color:#fff;font-weight:bold;transform:scaleX(1.1000);">6.46</div>
<div class="t" style="left:94.57px;top:71.76px;font-size:11.5px;line-height:11.5px;color:#fff;font-weight:bold;transform:scaleX(1.0771);">9</div>
<div class="t" style="left:204.86px;top:71.76px;font-size:11.5px;line-height:11.5px;color:#fff;font-weight:bold;transform:scaleX(1.1130);">9</div>
<svg class="a" style="left:0;top:0;" width="240" height="110" viewBox="0 0 240 110"><defs><linearGradient id="pg" gradientUnits="userSpaceOnUse" x1="0" y1="44" x2="0" y2="101"><stop offset="0" stop-color="#5656fa"/><stop offset="0.421" stop-color="#3434e2"/><stop offset="1" stop-color="#0000aa"/></linearGradient></defs><g font-family="Liberation Sans, sans-serif" font-size="35" fill="#fff" stroke="url(#pg)" stroke-width="0.6" style="text-rendering:geometricPrecision"><text x="53.5" y="96" textLength="36.5" lengthAdjust="spacingAndGlyphs">49</text><text x="165.5" y="96" textLength="36.5" lengthAdjust="spacingAndGlyphs">69</text></g></svg>
<div class="a" style="left:4px;top:660px;width:1px;height:3px;background:#000;"></div>
<div class="t" style="left:2.98px;top:664.53px;font-size:10px;line-height:10px;color:#000;transform:scaleX(0.9718);-webkit-text-stroke:0.2px #000;">4 Nov 2020</div>
<div class="a" style="left:68px;top:660px;width:1px;height:3px;background:#000;"></div>
<div class="t" style="left:67.12px;top:664.53px;font-size:10px;line-height:10px;color:#000;transform:scaleX(0.9531);-webkit-text-stroke:0.2px #000;">23 Nov 2020</div>
<div class="a" style="left:132px;top:660px;width:1px;height:3px;background:#000;"></div>
<div class="t" style="left:131.80px;top:664.53px;font-size:10px;line-height:10px;color:#000;transform:scaleX(0.9144);-webkit-text-stroke:0.2px #000;">11 Dec 2020</div>
<div class="a" style="left:196px;top:660px;width:1px;height:3px;background:#000;"></div>
<div class="t" style="left:195.45px;top:664.53px;font-size:10px;line-height:10px;color:#000;transform:scaleX(0.9207);-webkit-text-stroke:0.2px #000;">31 Dec 2020</div>
<div class="a" style="left:260px;top:660px;width:1px;height:3px;background:#000;"></div>
<div class="t" style="left:260.13px;top:664.53px;font-size:10px;line-height:10px;color:#000;transform:scaleX(0.8829);-webkit-text-stroke:0.2px #000;">19 Jan 2021</div>
<div class="a" style="left:324px;top:660px;width:1px;height:3px;background:#000;"></div>
<div class="t" style="left:323.23px;top:664.53px;font-size:10px;line-height:10px;color:#000;transform:scaleX(0.9294);-webkit-text-stroke:0.2px #000;">6 Feb 2021</div>
<div class="a" style="left:388px;top:660px;width:1px;height:3px;background:#000;"></div>
<div class="t" style="left:387.33px;top:664.53px;font-size:10px;line-height:10px;color:#000;transform:scaleX(0.9299);-webkit-text-stroke:0.2px #000;">25 Feb 2021</div>
<div class="a" style="left:452px;top:660px;width:1px;height:3px;background:#000;"></div>
<div class="t" style="left:451.40px;top:664.53px;font-size:10px;line-height:10px;color:#000;transform:scaleX(0.9254);-webkit-text-stroke:0.2px #000;">16 Mar 2021</div>
<div class="a" style="left:516px;top:660px;width:1px;height:3px;background:#000;"></div>
<div class="t" style="left:515.65px;top:664.53px;font-size:10px;line-height:10px;color:#000;transform:scaleX(0.9239);-webkit-text-stroke:0.2px #000;">3 Apr 2021</div>
<div class="a" style="left:580px;top:660px;width:1px;height:3px;background:#000;"></div>
<div class="t" style="left:579.94px;top:664.53px;font-size:10px;line-height:10px;color:#000;transform:scaleX(0.9178);-webkit-text-stroke:0.2px #000;">22 Apr 2021</div>
<div class="a" style="left:644px;top:660px;width:1px;height:3px;background:#000;"></div>
<div class="t" style="left:643.48px;top:664.53px;font-size:10px;line-height:10px;color:#000;transform:scaleX(0.9405);-webkit-text-stroke:0.2px #000;">11 May 2021</div>
<div class="a" style="left:708px;top:660px;width:1px;height:3px;background:#000;"></div>
<div class="t" style="left:707.32px;top:664.53px;font-size:10px;line-height:10px;color:#000;transform:scaleX(0.9503);-webkit-text-stroke:0.2px #000;">29 May 2021</div>
<div class="a" style="left:772px;top:660px;width:1px;height:3px;background:#000;"></div>
<div class="t" style="left:771.42px;top:664.53px;font-size:10px;line-height:10px;color:#000;transform:scaleX(0.8941);-webkit-text-stroke:0.2px #000;">17 Jun 2021</div>
<div class="a" style="left:836px;top:660px;width:1px;height:3px;background:#000;"></div>
<div class="t" style="left:835.54px;top:664.53px;font-size:10px;line-height:10px;color:#000;transform:scaleX(0.9058);-webkit-text-stroke:0.2px #000;">6 Jul 2021</div>
<div class="a" style="left:900px;top:660px;width:1px;height:3px;background:#000;"></div>
<div class="t" style="left:899.95px;top:664.53px;font-size:10px;line-height:10px;color:#000;transform:scaleX(0.8873);-webkit-text-stroke:0.2px #000;">24 Jul 2021</div>
<div class="a" style="left:0;top:680px;width:1205px;height:2px;background:#e6e6e6;"></div>
<div class="a" style="left:0;top:682px;width:1205px;height:1px;background:#000;"></div>
<div class="a" style="left:0;top:683px;width:1205px;height:18px;background:#f0f0f0;"></div>
<div class="a" style="left:0;top:683px;width:1px;height:18px;background:#555;"></div>
<div class="a" style="left:0;top:683px;width:1205px;height:1px;background:#f8f8f8;"></div>
<div class="a" style="left:0;top:701px;width:1205px;height:4px;background:#fbfbfb;"></div>
<div class="a" style="left:0;top:705px;width:1205px;height:1px;background:#dedede;"></div>
<div class="a" style="left:0;top:706px;width:1205px;height:1px;background:#a0a0a0;"></div>
<div class="a" style="left:393px;top:682px;width:102px;height:17px;background:#fff;border:1px solid #000;border-top:none;"></div>
<div class="a" style="left:395px;top:700px;width:103px;height:1px;background:#7c7c7c;"></div>
<div class="a" style="left:497px;top:684px;width:1px;height:17px;background:#7c7c7c;"></div>
<div class="t" style="left:16.42px;top:685.99px;font-size:13px;line-height:13px;color:#6e6e6e;transform:scaleX(0.9189);">EURUSD,H4</div>
<div class="t" style="left:107.78px;top:685.99px;font-size:13px;line-height:13px;color:#6e6e6e;transform:scaleX(0.9376);">AUDUSD,Daily</div>
<div class="t" style="left:210.69px;top:685.99px;font-size:13px;line-height:13px;color:#6e6e6e;transform:scaleX(0.9040);">USDCHF,H4</div>
<div class="t" style="left:299.47px;top:685.99px;font-size:13px;line-height:13px;color:#6e6e6e;transform:scaleX(0.9309);">USDCAD,Daily</div>
<div class="t" style="left:508.53px;top:685.99px;font-size:13px;line-height:13px;color:#6e6e6e;transform:scaleX(0.9717);">UKOil,H4</div>
<div class="t" style="left:582.29px;top:685.99px;font-size:13px;line-height:13px;color:#6e6e6e;transform:scaleX(0.9473);">DJ30,H1</div>
<div class="t" style="left:652.56px;top:685.99px;font-size:13px;line-height:13px;color:#6e6e6e;transform:scaleX(0.9395);">USDX,H1</div>
<div class="t" style="left:727.93px;top:685.99px;font-size:13px;line-height:13px;color:#6e6e6e;transform:scaleX(0.9309);">XAUUSD,H1</div>
<div class="t" style="left:820.80px;top:685.99px;font-size:13px;line-height:13px;color:#6e6e6e;transform:scaleX(0.9114);">GBPUSD,H1</div>
<div class="t" style="left:402.75px;top:685.99px;font-size:13px;line-height:13px;color:#000;transform:scaleX(0.9461);">USDCNH,Daily</div>
<div class="a" style="left:97px;top:685px;width:1px;height:14px;background:#6a6a6a;"></div>
<div class="a" style="left:201px;top:685px;width:1px;height:14px;background:#6a6a6a;"></div>
<div class="a" style="left:289px;top:685px;width:1px;height:14px;background:#6a6a6a;"></div>
<div class="a" style="left:573px;top:685px;width:1px;height:14px;background:#6a6a6a;"></div>
<div class="a" style="left:641px;top:685px;width:1px;height:14px;background:#6a6a6a;"></div>
<div class="a" style="left:717px;top:685px;width:1px;height:14px;background:#6a6a6a;"></div>
<div class="a" style="left:809px;top:685px;width:1px;height:14px;background:#6a6a6a;"></div>
<div class="a" style="left:901px;top:685px;width:1px;height:14px;background:#6a6a6a;"></div>
<svg class="a" style="left:1181px;top:687px;" width="5" height="8"><path d="M4.5 0.5 L4.5 7.5 L0.5 4 Z" fill="#8a8a8a"/></svg>
<svg class="a" style="left:1200px;top:687px;" width="5" height="8"><path d="M0.5 0.5 L0.5 7.5 L4.5 4 Z" fill="#8a8a8a"/></svg>
</body></html>
